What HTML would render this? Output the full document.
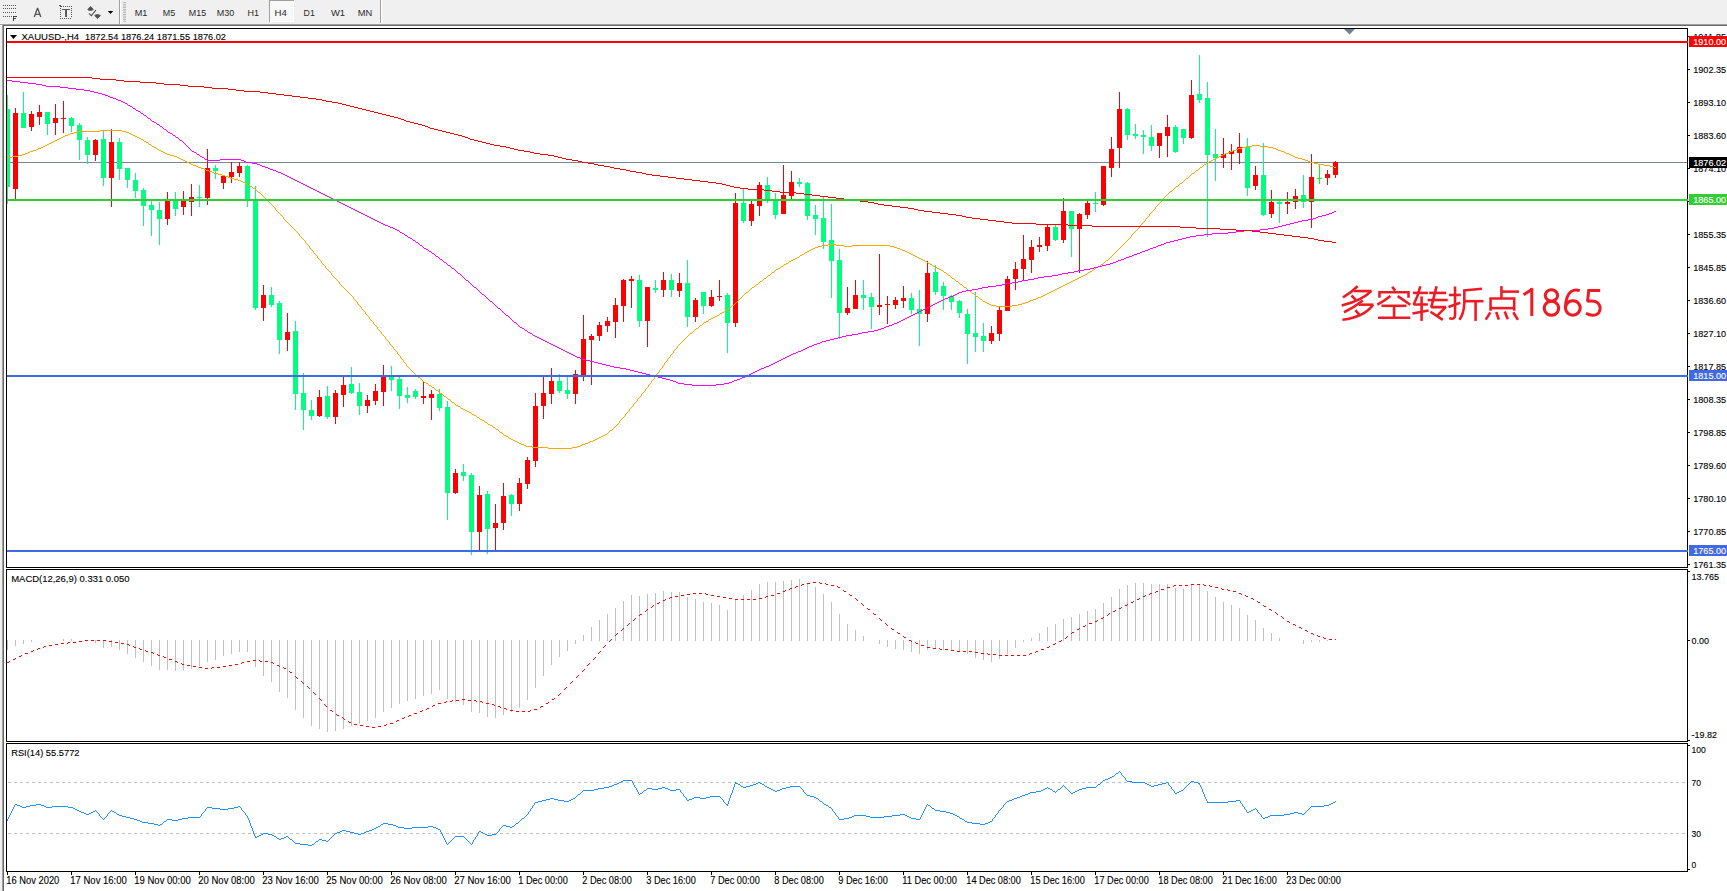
<!DOCTYPE html>
<html><head><meta charset="utf-8"><title>XAUUSD-,H4</title>
<style>html,body{margin:0;padding:0;background:#fff;overflow:hidden}body{width:1727px;height:891px;position:relative;font-family:"Liberation Sans",sans-serif}svg{position:absolute;left:0;top:0;display:block}text{font-family:"Liberation Sans",sans-serif}</style>
</head><body>
<svg width="1727" height="891" viewBox="0 0 1727 891">
<rect x="0" y="0" width="1727" height="891" fill="#fff"/>
<g shape-rendering="crispEdges">
<rect x="0" y="0" width="1727" height="24" fill="#f0f0f0"/>
<rect x="0" y="24" width="1727" height="1" fill="#a0a0a0"/>
<rect x="0" y="25" width="1727" height="1" fill="#696969"/>
<rect x="0" y="26" width="2" height="865" fill="#f0f0f0"/>
<rect x="0" y="25" width="2" height="1" fill="#ffffff"/>
<rect x="2" y="24" width="1" height="867" fill="#a0a0a0"/>
<rect x="3" y="25" width="1" height="866" fill="#696969"/>
</g>
<g shape-rendering="crispEdges">
<rect x="3" y="5" width="1" height="1" fill="#5a5a5a"/>
<rect x="5" y="5" width="1" height="1" fill="#5a5a5a"/>
<rect x="7" y="5" width="1" height="1" fill="#5a5a5a"/>
<rect x="9" y="5" width="1" height="1" fill="#5a5a5a"/>
<rect x="11" y="5" width="1" height="1" fill="#5a5a5a"/>
<rect x="13" y="5" width="1" height="1" fill="#5a5a5a"/>
<rect x="15" y="5" width="1" height="1" fill="#5a5a5a"/>
<rect x="3" y="8" width="1" height="1" fill="#5a5a5a"/>
<rect x="5" y="8" width="1" height="1" fill="#5a5a5a"/>
<rect x="7" y="8" width="1" height="1" fill="#5a5a5a"/>
<rect x="9" y="8" width="1" height="1" fill="#5a5a5a"/>
<rect x="11" y="8" width="1" height="1" fill="#5a5a5a"/>
<rect x="13" y="8" width="1" height="1" fill="#5a5a5a"/>
<rect x="15" y="8" width="1" height="1" fill="#5a5a5a"/>
<rect x="3" y="12" width="1" height="1" fill="#5a5a5a"/>
<rect x="5" y="12" width="1" height="1" fill="#5a5a5a"/>
<rect x="7" y="12" width="1" height="1" fill="#5a5a5a"/>
<rect x="9" y="12" width="1" height="1" fill="#5a5a5a"/>
<rect x="11" y="12" width="1" height="1" fill="#5a5a5a"/>
<rect x="13" y="12" width="1" height="1" fill="#5a5a5a"/>
<rect x="15" y="12" width="1" height="1" fill="#5a5a5a"/>
<rect x="3" y="16" width="1" height="1" fill="#5a5a5a"/>
<rect x="5" y="16" width="1" height="1" fill="#5a5a5a"/>
<rect x="7" y="16" width="1" height="1" fill="#5a5a5a"/>
<rect x="9" y="16" width="1" height="1" fill="#5a5a5a"/>
<rect x="11" y="16" width="1" height="1" fill="#5a5a5a"/>
<rect x="13" y="16" width="1" height="5" fill="#404040"/>
<rect x="13" y="16" width="4" height="1" fill="#404040"/>
<rect x="13" y="18" width="3" height="1" fill="#404040"/>
<rect x="60" y="8" width="1" height="1" fill="#555"/>
<rect x="60" y="10" width="1" height="1" fill="#555"/>
<rect x="60" y="12" width="1" height="1" fill="#555"/>
<rect x="60" y="14" width="1" height="1" fill="#555"/>
<rect x="60" y="16" width="1" height="1" fill="#555"/>
<rect x="60" y="18" width="1" height="1" fill="#555"/>
<rect x="62" y="18" width="1" height="1" fill="#555"/>
<rect x="64" y="18" width="1" height="1" fill="#555"/>
<rect x="66" y="18" width="1" height="1" fill="#555"/>
<rect x="68" y="18" width="1" height="1" fill="#555"/>
<rect x="70" y="18" width="1" height="1" fill="#555"/>
<rect x="71" y="6" width="1" height="1" fill="#555"/>
<rect x="71" y="8" width="1" height="1" fill="#555"/>
<rect x="71" y="10" width="1" height="1" fill="#555"/>
<rect x="71" y="12" width="1" height="1" fill="#555"/>
<rect x="71" y="14" width="1" height="1" fill="#555"/>
<rect x="71" y="16" width="1" height="1" fill="#555"/>
<rect x="63" y="6" width="1" height="1" fill="#555"/>
<rect x="65" y="6" width="1" height="1" fill="#555"/>
<rect x="67" y="6" width="1" height="1" fill="#555"/>
<rect x="69" y="6" width="1" height="1" fill="#555"/>
<rect x="59" y="5" width="2" height="1" fill="#555"/>
<rect x="60" y="6" width="2" height="1" fill="#555"/>
<rect x="62" y="9" width="8" height="1" fill="#5a5a5a"/>
<rect x="65" y="9" width="2" height="8" fill="#5a5a5a"/>
<rect x="119" y="0" width="1" height="24" fill="#a0a0a0"/>
<rect x="120" y="0" width="1" height="24" fill="#ffffff"/>
<rect x="380" y="0" width="1" height="23" fill="#a0a0a0"/>
<rect x="381" y="0" width="1" height="23" fill="#ffffff"/>
<rect x="269" y="0" width="25" height="22" fill="#f8f8f8"/>
<rect x="269" y="0" width="25" height="1" fill="#a0a0a0"/>
<rect x="269" y="0" width="1" height="22" fill="#a0a0a0"/>
<rect x="293" y="1" width="1" height="21" fill="#ffffff"/>
<rect x="270" y="21" width="24" height="1" fill="#ffffff"/>
</g>
<rect x="123" y="2.20" width="3" height="0.8" fill="#a8a8a8"/>
<rect x="123" y="3.89" width="3" height="0.8" fill="#a8a8a8"/>
<rect x="123" y="5.58" width="3" height="0.8" fill="#a8a8a8"/>
<rect x="123" y="7.27" width="3" height="0.8" fill="#a8a8a8"/>
<rect x="123" y="8.96" width="3" height="0.8" fill="#a8a8a8"/>
<rect x="123" y="10.65" width="3" height="0.8" fill="#a8a8a8"/>
<rect x="123" y="12.34" width="3" height="0.8" fill="#a8a8a8"/>
<rect x="123" y="14.03" width="3" height="0.8" fill="#a8a8a8"/>
<rect x="123" y="15.72" width="3" height="0.8" fill="#a8a8a8"/>
<rect x="123" y="17.41" width="3" height="0.8" fill="#a8a8a8"/>
<rect x="123" y="19.10" width="3" height="0.8" fill="#a8a8a8"/>
<rect x="123" y="20.79" width="3" height="0.8" fill="#a8a8a8"/>
<path d="M34.3,17 L37.55,8.0 L40.8,17 M35.4,14.4 L39.7,14.4" fill="none" stroke="#555" stroke-width="1.35" stroke-linejoin="bevel"/>
<polygon points="90.5,6 94.1,9.7 92.6,9.7 92.6,10.7 88.3,10.7 88.3,9.7 87,9.7" fill="#505050"/>
<polygon points="97.5,18.9 101.2,15.2 99.5,15.2 99.5,14.2 95.4,14.2 95.4,15.2 93.9,15.2" fill="#505050"/>
<polyline points="89,13.3 91.3,15.6 95.9,10.2" fill="none" stroke="#505050" stroke-width="1.1"/>
<polygon points="107.8,10.9 113.2,10.9 110.5,14" fill="#000"/>
<text x="134.7" y="15.7" font-size="9.8" fill="#2a2a2a" textLength="12.7" lengthAdjust="spacingAndGlyphs">M1</text>
<text x="162.8" y="15.7" font-size="9.8" fill="#2a2a2a" textLength="12.4" lengthAdjust="spacingAndGlyphs">M5</text>
<text x="188.8" y="15.7" font-size="9.8" fill="#2a2a2a" textLength="17.3" lengthAdjust="spacingAndGlyphs">M15</text>
<text x="216.8" y="15.7" font-size="9.8" fill="#2a2a2a" textLength="17.5" lengthAdjust="spacingAndGlyphs">M30</text>
<text x="247.6" y="15.7" font-size="9.8" fill="#2a2a2a" textLength="11.5" lengthAdjust="spacingAndGlyphs">H1</text>
<text x="274.6" y="15.7" font-size="9.8" fill="#2a2a2a" textLength="12.3" lengthAdjust="spacingAndGlyphs">H4</text>
<text x="303.6" y="15.7" font-size="9.8" fill="#2a2a2a" textLength="11.3" lengthAdjust="spacingAndGlyphs">D1</text>
<text x="331" y="15.7" font-size="9.8" fill="#2a2a2a" textLength="14.1" lengthAdjust="spacingAndGlyphs">W1</text>
<text x="357.7" y="15.7" font-size="9.8" fill="#2a2a2a" textLength="14.5" lengthAdjust="spacingAndGlyphs">MN</text>
<defs><clipPath id="cm"><rect x="7" y="29" width="1680" height="538"/></clipPath></defs>
<g shape-rendering="crispEdges">
<g clip-path="url(#cm)">
<rect x="7" y="162" width="1680" height="1" fill="#778899"/>
<rect x="7" y="95" width="1" height="109" fill="#00ff7f"/>
<rect x="5" y="109" width="5" height="78" fill="#00ff7f"/>
<rect x="15" y="108" width="1" height="91" fill="#ff0000"/>
<rect x="13" y="113" width="5" height="76" fill="#ff0000"/>
<rect x="23" y="92" width="1" height="36" fill="#00ff7f"/>
<rect x="21" y="113" width="5" height="15" fill="#00ff7f"/>
<rect x="31" y="111" width="1" height="20" fill="#ff0000"/>
<rect x="29" y="114" width="5" height="13" fill="#ff0000"/>
<rect x="39" y="105" width="1" height="20" fill="#ff0000"/>
<rect x="37" y="112" width="5" height="5" fill="#ff0000"/>
<rect x="47" y="112" width="1" height="23" fill="#00ff7f"/>
<rect x="45" y="112" width="5" height="12" fill="#00ff7f"/>
<rect x="55" y="104" width="1" height="31" fill="#ff0000"/>
<rect x="53" y="118" width="5" height="5" fill="#ff0000"/>
<rect x="63" y="101" width="1" height="32" fill="#ff0000"/>
<rect x="61" y="118" width="5" height="1" fill="#ff0000"/>
<rect x="71" y="117" width="1" height="15" fill="#00ff7f"/>
<rect x="69" y="118" width="5" height="8" fill="#00ff7f"/>
<rect x="79" y="123" width="1" height="37" fill="#00ff7f"/>
<rect x="77" y="125" width="5" height="15" fill="#00ff7f"/>
<rect x="87" y="137" width="1" height="27" fill="#00ff7f"/>
<rect x="85" y="140" width="5" height="15" fill="#00ff7f"/>
<rect x="95" y="139" width="1" height="22" fill="#ff0000"/>
<rect x="93" y="140" width="5" height="15" fill="#ff0000"/>
<rect x="103" y="131" width="1" height="55" fill="#00ff7f"/>
<rect x="101" y="139" width="5" height="39" fill="#00ff7f"/>
<rect x="111" y="129" width="1" height="78" fill="#ff0000"/>
<rect x="109" y="142" width="5" height="36" fill="#ff0000"/>
<rect x="119" y="138" width="1" height="42" fill="#00ff7f"/>
<rect x="117" y="142" width="5" height="27" fill="#00ff7f"/>
<rect x="127" y="168" width="1" height="20" fill="#00ff7f"/>
<rect x="125" y="168" width="5" height="12" fill="#00ff7f"/>
<rect x="135" y="173" width="1" height="25" fill="#00ff7f"/>
<rect x="133" y="180" width="5" height="11" fill="#00ff7f"/>
<rect x="143" y="188" width="1" height="38" fill="#00ff7f"/>
<rect x="141" y="190" width="5" height="16" fill="#00ff7f"/>
<rect x="151" y="201" width="1" height="35" fill="#00ff7f"/>
<rect x="149" y="205" width="5" height="5" fill="#00ff7f"/>
<rect x="159" y="202" width="1" height="43" fill="#00ff7f"/>
<rect x="157" y="210" width="5" height="9" fill="#00ff7f"/>
<rect x="167" y="192" width="1" height="33" fill="#ff0000"/>
<rect x="165" y="200" width="5" height="19" fill="#ff0000"/>
<rect x="175" y="192" width="1" height="24" fill="#00ff7f"/>
<rect x="173" y="200" width="5" height="9" fill="#00ff7f"/>
<rect x="183" y="191" width="1" height="24" fill="#ff0000"/>
<rect x="181" y="200" width="5" height="7" fill="#ff0000"/>
<rect x="191" y="184" width="1" height="32" fill="#ff0000"/>
<rect x="189" y="197" width="5" height="5" fill="#ff0000"/>
<rect x="199" y="185" width="1" height="22" fill="#00ff7f"/>
<rect x="197" y="197" width="5" height="1" fill="#00ff7f"/>
<rect x="207" y="149" width="1" height="56" fill="#ff0000"/>
<rect x="205" y="168" width="5" height="30" fill="#ff0000"/>
<rect x="215" y="165" width="1" height="14" fill="#00ff7f"/>
<rect x="213" y="168" width="5" height="3" fill="#00ff7f"/>
<rect x="223" y="175" width="1" height="14" fill="#ff0000"/>
<rect x="221" y="176" width="5" height="7" fill="#ff0000"/>
<rect x="231" y="162" width="1" height="21" fill="#ff0000"/>
<rect x="229" y="172" width="5" height="5" fill="#ff0000"/>
<rect x="239" y="162" width="1" height="15" fill="#ff0000"/>
<rect x="237" y="166" width="5" height="7" fill="#ff0000"/>
<rect x="247" y="165" width="1" height="42" fill="#00ff7f"/>
<rect x="245" y="166" width="5" height="33" fill="#00ff7f"/>
<rect x="255" y="186" width="1" height="124" fill="#00ff7f"/>
<rect x="253" y="199" width="5" height="109" fill="#00ff7f"/>
<rect x="263" y="285" width="1" height="36" fill="#ff0000"/>
<rect x="261" y="295" width="5" height="13" fill="#ff0000"/>
<rect x="271" y="287" width="1" height="20" fill="#00ff7f"/>
<rect x="269" y="295" width="5" height="10" fill="#00ff7f"/>
<rect x="279" y="301" width="1" height="53" fill="#00ff7f"/>
<rect x="277" y="303" width="5" height="37" fill="#00ff7f"/>
<rect x="287" y="313" width="1" height="38" fill="#ff0000"/>
<rect x="285" y="332" width="5" height="8" fill="#ff0000"/>
<rect x="295" y="321" width="1" height="89" fill="#00ff7f"/>
<rect x="293" y="331" width="5" height="63" fill="#00ff7f"/>
<rect x="303" y="373" width="1" height="57" fill="#00ff7f"/>
<rect x="301" y="393" width="5" height="17" fill="#00ff7f"/>
<rect x="311" y="400" width="1" height="20" fill="#00ff7f"/>
<rect x="309" y="410" width="5" height="6" fill="#00ff7f"/>
<rect x="319" y="390" width="1" height="27" fill="#ff0000"/>
<rect x="317" y="397" width="5" height="19" fill="#ff0000"/>
<rect x="327" y="386" width="1" height="33" fill="#00ff7f"/>
<rect x="325" y="396" width="5" height="21" fill="#00ff7f"/>
<rect x="335" y="390" width="1" height="34" fill="#ff0000"/>
<rect x="333" y="393" width="5" height="24" fill="#ff0000"/>
<rect x="343" y="377" width="1" height="30" fill="#ff0000"/>
<rect x="341" y="385" width="5" height="10" fill="#ff0000"/>
<rect x="351" y="367" width="1" height="27" fill="#00ff7f"/>
<rect x="349" y="384" width="5" height="9" fill="#00ff7f"/>
<rect x="359" y="383" width="1" height="32" fill="#00ff7f"/>
<rect x="357" y="392" width="5" height="14" fill="#00ff7f"/>
<rect x="367" y="395" width="1" height="18" fill="#ff0000"/>
<rect x="365" y="400" width="5" height="6" fill="#ff0000"/>
<rect x="375" y="384" width="1" height="21" fill="#ff0000"/>
<rect x="373" y="391" width="5" height="10" fill="#ff0000"/>
<rect x="383" y="365" width="1" height="41" fill="#ff0000"/>
<rect x="381" y="375" width="5" height="17" fill="#ff0000"/>
<rect x="391" y="366" width="1" height="25" fill="#00ff7f"/>
<rect x="389" y="375" width="5" height="5" fill="#00ff7f"/>
<rect x="399" y="376" width="1" height="33" fill="#00ff7f"/>
<rect x="397" y="379" width="5" height="17" fill="#00ff7f"/>
<rect x="407" y="387" width="1" height="16" fill="#00ff7f"/>
<rect x="405" y="395" width="5" height="3" fill="#00ff7f"/>
<rect x="415" y="389" width="1" height="10" fill="#00ff7f"/>
<rect x="413" y="391" width="5" height="6" fill="#00ff7f"/>
<rect x="423" y="382" width="1" height="22" fill="#ff0000"/>
<rect x="421" y="396" width="5" height="2" fill="#ff0000"/>
<rect x="431" y="390" width="1" height="30" fill="#ff0000"/>
<rect x="429" y="394" width="5" height="4" fill="#ff0000"/>
<rect x="439" y="389" width="1" height="22" fill="#00ff7f"/>
<rect x="437" y="394" width="5" height="14" fill="#00ff7f"/>
<rect x="447" y="401" width="1" height="119" fill="#00ff7f"/>
<rect x="445" y="407" width="5" height="86" fill="#00ff7f"/>
<rect x="455" y="469" width="1" height="25" fill="#ff0000"/>
<rect x="453" y="473" width="5" height="20" fill="#ff0000"/>
<rect x="463" y="464" width="1" height="17" fill="#00ff7f"/>
<rect x="461" y="472" width="5" height="4" fill="#00ff7f"/>
<rect x="471" y="473" width="1" height="82" fill="#00ff7f"/>
<rect x="469" y="475" width="5" height="57" fill="#00ff7f"/>
<rect x="479" y="486" width="1" height="64" fill="#ff0000"/>
<rect x="477" y="495" width="5" height="37" fill="#ff0000"/>
<rect x="487" y="491" width="1" height="63" fill="#00ff7f"/>
<rect x="485" y="494" width="5" height="35" fill="#00ff7f"/>
<rect x="495" y="504" width="1" height="46" fill="#ff0000"/>
<rect x="493" y="523" width="5" height="5" fill="#ff0000"/>
<rect x="503" y="483" width="1" height="47" fill="#ff0000"/>
<rect x="501" y="496" width="5" height="27" fill="#ff0000"/>
<rect x="511" y="494" width="1" height="22" fill="#00ff7f"/>
<rect x="509" y="495" width="5" height="9" fill="#00ff7f"/>
<rect x="519" y="478" width="1" height="33" fill="#ff0000"/>
<rect x="517" y="483" width="5" height="21" fill="#ff0000"/>
<rect x="527" y="457" width="1" height="32" fill="#ff0000"/>
<rect x="525" y="460" width="5" height="24" fill="#ff0000"/>
<rect x="535" y="393" width="1" height="74" fill="#ff0000"/>
<rect x="533" y="406" width="5" height="55" fill="#ff0000"/>
<rect x="543" y="377" width="1" height="42" fill="#ff0000"/>
<rect x="541" y="393" width="5" height="13" fill="#ff0000"/>
<rect x="551" y="368" width="1" height="36" fill="#ff0000"/>
<rect x="549" y="381" width="5" height="13" fill="#ff0000"/>
<rect x="559" y="374" width="1" height="19" fill="#00ff7f"/>
<rect x="557" y="381" width="5" height="10" fill="#00ff7f"/>
<rect x="567" y="377" width="1" height="22" fill="#00ff7f"/>
<rect x="565" y="390" width="5" height="4" fill="#00ff7f"/>
<rect x="575" y="370" width="1" height="34" fill="#ff0000"/>
<rect x="573" y="374" width="5" height="20" fill="#ff0000"/>
<rect x="583" y="315" width="1" height="66" fill="#ff0000"/>
<rect x="581" y="339" width="5" height="36" fill="#ff0000"/>
<rect x="591" y="334" width="1" height="51" fill="#ff0000"/>
<rect x="589" y="336" width="5" height="4" fill="#ff0000"/>
<rect x="599" y="322" width="1" height="19" fill="#ff0000"/>
<rect x="597" y="325" width="5" height="11" fill="#ff0000"/>
<rect x="607" y="317" width="1" height="15" fill="#ff0000"/>
<rect x="605" y="321" width="5" height="5" fill="#ff0000"/>
<rect x="615" y="298" width="1" height="40" fill="#ff0000"/>
<rect x="613" y="305" width="5" height="17" fill="#ff0000"/>
<rect x="623" y="279" width="1" height="43" fill="#ff0000"/>
<rect x="621" y="280" width="5" height="26" fill="#ff0000"/>
<rect x="631" y="276" width="1" height="32" fill="#ff0000"/>
<rect x="629" y="279" width="5" height="2" fill="#ff0000"/>
<rect x="639" y="275" width="1" height="52" fill="#00ff7f"/>
<rect x="637" y="280" width="5" height="41" fill="#00ff7f"/>
<rect x="647" y="287" width="1" height="60" fill="#ff0000"/>
<rect x="645" y="287" width="5" height="34" fill="#ff0000"/>
<rect x="655" y="280" width="1" height="13" fill="#00ff7f"/>
<rect x="653" y="288" width="5" height="2" fill="#00ff7f"/>
<rect x="663" y="272" width="1" height="25" fill="#ff0000"/>
<rect x="661" y="280" width="5" height="10" fill="#ff0000"/>
<rect x="671" y="274" width="1" height="23" fill="#00ff7f"/>
<rect x="669" y="280" width="5" height="10" fill="#00ff7f"/>
<rect x="679" y="273" width="1" height="24" fill="#ff0000"/>
<rect x="677" y="283" width="5" height="8" fill="#ff0000"/>
<rect x="687" y="260" width="1" height="67" fill="#00ff7f"/>
<rect x="685" y="283" width="5" height="34" fill="#00ff7f"/>
<rect x="695" y="298" width="1" height="24" fill="#ff0000"/>
<rect x="693" y="300" width="5" height="17" fill="#ff0000"/>
<rect x="703" y="292" width="1" height="22" fill="#00ff7f"/>
<rect x="701" y="292" width="5" height="14" fill="#00ff7f"/>
<rect x="711" y="290" width="1" height="17" fill="#ff0000"/>
<rect x="709" y="297" width="5" height="9" fill="#ff0000"/>
<rect x="719" y="280" width="1" height="21" fill="#ff0000"/>
<rect x="717" y="296" width="5" height="1" fill="#ff0000"/>
<rect x="727" y="293" width="1" height="60" fill="#00ff7f"/>
<rect x="725" y="295" width="5" height="28" fill="#00ff7f"/>
<rect x="735" y="193" width="1" height="134" fill="#ff0000"/>
<rect x="733" y="203" width="5" height="120" fill="#ff0000"/>
<rect x="743" y="189" width="1" height="34" fill="#00ff7f"/>
<rect x="741" y="203" width="5" height="18" fill="#00ff7f"/>
<rect x="751" y="201" width="1" height="25" fill="#ff0000"/>
<rect x="749" y="204" width="5" height="17" fill="#ff0000"/>
<rect x="759" y="182" width="1" height="34" fill="#ff0000"/>
<rect x="757" y="185" width="5" height="21" fill="#ff0000"/>
<rect x="767" y="177" width="1" height="26" fill="#00ff7f"/>
<rect x="765" y="185" width="5" height="15" fill="#00ff7f"/>
<rect x="775" y="193" width="1" height="26" fill="#00ff7f"/>
<rect x="773" y="200" width="5" height="15" fill="#00ff7f"/>
<rect x="783" y="165" width="1" height="49" fill="#ff0000"/>
<rect x="781" y="195" width="5" height="19" fill="#ff0000"/>
<rect x="791" y="171" width="1" height="28" fill="#ff0000"/>
<rect x="789" y="182" width="5" height="14" fill="#ff0000"/>
<rect x="799" y="178" width="1" height="9" fill="#00ff7f"/>
<rect x="797" y="182" width="5" height="2" fill="#00ff7f"/>
<rect x="807" y="182" width="1" height="38" fill="#00ff7f"/>
<rect x="805" y="183" width="5" height="33" fill="#00ff7f"/>
<rect x="815" y="205" width="1" height="30" fill="#00ff7f"/>
<rect x="813" y="215" width="5" height="4" fill="#00ff7f"/>
<rect x="823" y="197" width="1" height="52" fill="#00ff7f"/>
<rect x="821" y="218" width="5" height="24" fill="#00ff7f"/>
<rect x="831" y="204" width="1" height="94" fill="#00ff7f"/>
<rect x="829" y="240" width="5" height="21" fill="#00ff7f"/>
<rect x="839" y="249" width="1" height="90" fill="#00ff7f"/>
<rect x="837" y="260" width="5" height="53" fill="#00ff7f"/>
<rect x="847" y="287" width="1" height="28" fill="#ff0000"/>
<rect x="845" y="308" width="5" height="5" fill="#ff0000"/>
<rect x="855" y="280" width="1" height="29" fill="#ff0000"/>
<rect x="853" y="295" width="5" height="14" fill="#ff0000"/>
<rect x="863" y="280" width="1" height="30" fill="#00ff7f"/>
<rect x="861" y="295" width="5" height="3" fill="#00ff7f"/>
<rect x="871" y="293" width="1" height="36" fill="#00ff7f"/>
<rect x="869" y="297" width="5" height="10" fill="#00ff7f"/>
<rect x="879" y="254" width="1" height="61" fill="#ff0000"/>
<rect x="877" y="305" width="5" height="2" fill="#ff0000"/>
<rect x="887" y="296" width="1" height="28" fill="#ff0000"/>
<rect x="885" y="304" width="5" height="1" fill="#ff0000"/>
<rect x="895" y="297" width="1" height="12" fill="#ff0000"/>
<rect x="893" y="300" width="5" height="5" fill="#ff0000"/>
<rect x="903" y="286" width="1" height="22" fill="#ff0000"/>
<rect x="901" y="298" width="5" height="3" fill="#ff0000"/>
<rect x="911" y="293" width="1" height="21" fill="#00ff7f"/>
<rect x="909" y="298" width="5" height="12" fill="#00ff7f"/>
<rect x="919" y="290" width="1" height="56" fill="#00ff7f"/>
<rect x="917" y="309" width="5" height="5" fill="#00ff7f"/>
<rect x="927" y="261" width="1" height="61" fill="#ff0000"/>
<rect x="925" y="273" width="5" height="41" fill="#ff0000"/>
<rect x="935" y="265" width="1" height="30" fill="#00ff7f"/>
<rect x="933" y="272" width="5" height="20" fill="#00ff7f"/>
<rect x="943" y="282" width="1" height="28" fill="#00ff7f"/>
<rect x="941" y="286" width="5" height="10" fill="#00ff7f"/>
<rect x="951" y="295" width="1" height="15" fill="#00ff7f"/>
<rect x="949" y="296" width="5" height="6" fill="#00ff7f"/>
<rect x="959" y="300" width="1" height="18" fill="#00ff7f"/>
<rect x="957" y="301" width="5" height="12" fill="#00ff7f"/>
<rect x="967" y="309" width="1" height="55" fill="#00ff7f"/>
<rect x="965" y="314" width="5" height="20" fill="#00ff7f"/>
<rect x="975" y="292" width="1" height="60" fill="#00ff7f"/>
<rect x="973" y="333" width="5" height="4" fill="#00ff7f"/>
<rect x="983" y="323" width="1" height="29" fill="#00ff7f"/>
<rect x="981" y="336" width="5" height="5" fill="#00ff7f"/>
<rect x="991" y="326" width="1" height="18" fill="#ff0000"/>
<rect x="989" y="333" width="5" height="8" fill="#ff0000"/>
<rect x="999" y="306" width="1" height="35" fill="#ff0000"/>
<rect x="997" y="310" width="5" height="24" fill="#ff0000"/>
<rect x="1007" y="276" width="1" height="35" fill="#ff0000"/>
<rect x="1005" y="279" width="5" height="32" fill="#ff0000"/>
<rect x="1015" y="262" width="1" height="28" fill="#ff0000"/>
<rect x="1013" y="269" width="5" height="10" fill="#ff0000"/>
<rect x="1023" y="235" width="1" height="46" fill="#ff0000"/>
<rect x="1021" y="259" width="5" height="10" fill="#ff0000"/>
<rect x="1031" y="240" width="1" height="33" fill="#ff0000"/>
<rect x="1029" y="247" width="5" height="13" fill="#ff0000"/>
<rect x="1039" y="237" width="1" height="15" fill="#ff0000"/>
<rect x="1037" y="245" width="5" height="2" fill="#ff0000"/>
<rect x="1047" y="225" width="1" height="26" fill="#ff0000"/>
<rect x="1045" y="227" width="5" height="19" fill="#ff0000"/>
<rect x="1055" y="225" width="1" height="16" fill="#00ff7f"/>
<rect x="1053" y="227" width="5" height="13" fill="#00ff7f"/>
<rect x="1063" y="198" width="1" height="45" fill="#ff0000"/>
<rect x="1061" y="211" width="5" height="29" fill="#ff0000"/>
<rect x="1071" y="211" width="1" height="46" fill="#00ff7f"/>
<rect x="1069" y="211" width="5" height="18" fill="#00ff7f"/>
<rect x="1079" y="213" width="1" height="60" fill="#ff0000"/>
<rect x="1077" y="214" width="5" height="15" fill="#ff0000"/>
<rect x="1087" y="201" width="1" height="18" fill="#ff0000"/>
<rect x="1085" y="203" width="5" height="12" fill="#ff0000"/>
<rect x="1095" y="192" width="1" height="20" fill="#00ff7f"/>
<rect x="1093" y="203" width="5" height="1" fill="#00ff7f"/>
<rect x="1103" y="166" width="1" height="40" fill="#ff0000"/>
<rect x="1101" y="166" width="5" height="39" fill="#ff0000"/>
<rect x="1111" y="137" width="1" height="40" fill="#ff0000"/>
<rect x="1109" y="149" width="5" height="19" fill="#ff0000"/>
<rect x="1119" y="92" width="1" height="76" fill="#ff0000"/>
<rect x="1117" y="109" width="5" height="39" fill="#ff0000"/>
<rect x="1127" y="108" width="1" height="32" fill="#00ff7f"/>
<rect x="1125" y="109" width="5" height="26" fill="#00ff7f"/>
<rect x="1135" y="124" width="1" height="15" fill="#00ff7f"/>
<rect x="1133" y="134" width="5" height="2" fill="#00ff7f"/>
<rect x="1143" y="130" width="1" height="24" fill="#00ff7f"/>
<rect x="1141" y="135" width="5" height="2" fill="#00ff7f"/>
<rect x="1151" y="125" width="1" height="26" fill="#00ff7f"/>
<rect x="1149" y="137" width="5" height="9" fill="#00ff7f"/>
<rect x="1159" y="133" width="1" height="25" fill="#ff0000"/>
<rect x="1157" y="133" width="5" height="13" fill="#ff0000"/>
<rect x="1167" y="115" width="1" height="42" fill="#ff0000"/>
<rect x="1165" y="127" width="5" height="9" fill="#ff0000"/>
<rect x="1175" y="125" width="1" height="28" fill="#00ff7f"/>
<rect x="1173" y="127" width="5" height="25" fill="#00ff7f"/>
<rect x="1183" y="129" width="1" height="15" fill="#00ff7f"/>
<rect x="1181" y="129" width="5" height="9" fill="#00ff7f"/>
<rect x="1191" y="80" width="1" height="59" fill="#ff0000"/>
<rect x="1189" y="95" width="5" height="43" fill="#ff0000"/>
<rect x="1199" y="55" width="1" height="48" fill="#00ff7f"/>
<rect x="1197" y="94" width="5" height="6" fill="#00ff7f"/>
<rect x="1207" y="82" width="1" height="155" fill="#00ff7f"/>
<rect x="1205" y="98" width="5" height="57" fill="#00ff7f"/>
<rect x="1215" y="129" width="1" height="52" fill="#00ff7f"/>
<rect x="1213" y="154" width="5" height="4" fill="#00ff7f"/>
<rect x="1223" y="138" width="1" height="30" fill="#ff0000"/>
<rect x="1221" y="154" width="5" height="4" fill="#ff0000"/>
<rect x="1231" y="144" width="1" height="26" fill="#ff0000"/>
<rect x="1229" y="151" width="5" height="3" fill="#ff0000"/>
<rect x="1239" y="133" width="1" height="31" fill="#ff0000"/>
<rect x="1237" y="147" width="5" height="6" fill="#ff0000"/>
<rect x="1247" y="138" width="1" height="58" fill="#00ff7f"/>
<rect x="1245" y="147" width="5" height="41" fill="#00ff7f"/>
<rect x="1255" y="166" width="1" height="24" fill="#ff0000"/>
<rect x="1253" y="175" width="5" height="11" fill="#ff0000"/>
<rect x="1263" y="143" width="1" height="73" fill="#00ff7f"/>
<rect x="1261" y="175" width="5" height="40" fill="#00ff7f"/>
<rect x="1271" y="190" width="1" height="28" fill="#ff0000"/>
<rect x="1269" y="202" width="5" height="12" fill="#ff0000"/>
<rect x="1279" y="200" width="1" height="23" fill="#00ff7f"/>
<rect x="1277" y="202" width="5" height="2" fill="#00ff7f"/>
<rect x="1287" y="192" width="1" height="22" fill="#ff0000"/>
<rect x="1285" y="202" width="5" height="2" fill="#ff0000"/>
<rect x="1295" y="189" width="1" height="20" fill="#ff0000"/>
<rect x="1293" y="196" width="5" height="6" fill="#ff0000"/>
<rect x="1303" y="175" width="1" height="33" fill="#00ff7f"/>
<rect x="1301" y="195" width="5" height="7" fill="#00ff7f"/>
<rect x="1311" y="154" width="1" height="74" fill="#ff0000"/>
<rect x="1309" y="177" width="5" height="25" fill="#ff0000"/>
<rect x="1319" y="165" width="1" height="19" fill="#00ff00"/>
<rect x="1317" y="178" width="5" height="1" fill="#00ff00"/>
<rect x="1327" y="170" width="1" height="15" fill="#ff0000"/>
<rect x="1325" y="174" width="5" height="4" fill="#ff0000"/>
<rect x="1335" y="161" width="1" height="17" fill="#ff0000"/>
<rect x="1333" y="162" width="5" height="13" fill="#ff0000"/>
</g>
<g clip-path="url(#cm)">
<path d="M100 130h22v1h-22zM78 131h22v1h-22zM122 131h4v1h-4zM74 132h4v1h-4zM126 132h3v1h-3zM70 133h4v1h-4zM129 133h2v1h-2zM68 134h2v1h-2zM131 134h2v1h-2zM65 135h3v1h-3zM133 135h2v1h-2zM63 136h2v1h-2zM135 136h2v1h-2zM61 137h2v1h-2zM137 137h2v1h-2zM59 138h2v1h-2zM139 138h2v1h-2zM57 139h2v1h-2zM141 139h2v1h-2zM55 140h2v1h-2zM143 140h1v1h-1zM53 141h2v1h-2zM144 141h2v1h-2zM51 142h2v1h-2zM146 142h2v1h-2zM49 143h2v1h-2zM148 143h1v1h-1zM47 144h2v1h-2zM149 144h2v1h-2zM45 145h2v1h-2zM151 145h1v1h-1zM1252 145h8v1h-8zM43 146h2v1h-2zM152 146h2v1h-2zM1246 146h6v1h-6zM1260 146h8v1h-8zM41 147h2v1h-2zM154 147h2v1h-2zM1242 147h4v1h-4zM1268 147h5v1h-5zM38 148h3v1h-3zM156 148h1v1h-1zM1238 148h4v1h-4zM1273 148h3v1h-3zM36 149h2v1h-2zM157 149h2v1h-2zM1236 149h2v1h-2zM1276 149h2v1h-2zM33 150h3v1h-3zM159 150h2v1h-2zM1233 150h3v1h-3zM1278 150h3v1h-3zM30 151h3v1h-3zM161 151h2v1h-2zM1230 151h3v1h-3zM1281 151h3v1h-3zM28 152h2v1h-2zM163 152h2v1h-2zM1228 152h2v1h-2zM1284 152h2v1h-2zM25 153h3v1h-3zM165 153h2v1h-2zM1225 153h3v1h-3zM1286 153h3v1h-3zM22 154h3v1h-3zM167 154h3v1h-3zM1223 154h2v1h-2zM1289 154h2v1h-2zM18 155h4v1h-4zM170 155h4v1h-4zM1221 155h2v1h-2zM1291 155h2v1h-2zM12 156h6v1h-6zM174 156h3v1h-3zM1219 156h2v1h-2zM1293 156h2v1h-2zM7 157h5v1h-5zM177 157h2v1h-2zM1217 157h2v1h-2zM1295 157h3v1h-3zM179 158h2v1h-2zM1215 158h2v1h-2zM1298 158h4v1h-4zM181 159h2v1h-2zM1213 159h2v1h-2zM1302 159h3v1h-3zM183 160h2v1h-2zM1211 160h2v1h-2zM1305 160h3v1h-3zM185 161h2v1h-2zM1209 161h2v1h-2zM1308 161h2v1h-2zM187 162h2v1h-2zM1207 162h2v1h-2zM1310 162h4v1h-4zM189 163h2v1h-2zM1206 163h1v1h-1zM1314 163h4v1h-4zM191 164h2v1h-2zM1204 164h2v1h-2zM1318 164h6v1h-6zM193 165h3v1h-3zM1203 165h1v1h-1zM1324 165h6v1h-6zM196 166h2v1h-2zM1202 166h1v1h-1zM1330 166h4v1h-4zM198 167h3v1h-3zM1200 167h2v1h-2zM1334 167h2v1h-2zM201 168h3v1h-3zM1199 168h1v1h-1zM204 169h2v1h-2zM1198 169h1v1h-1zM206 170h3v1h-3zM1196 170h2v1h-2zM209 171h3v1h-3zM1195 171h1v1h-1zM212 172h2v1h-2zM1194 172h1v1h-1zM214 173h4v1h-4zM1192 173h2v1h-2zM218 174h4v1h-4zM1191 174h1v1h-1zM222 175h3v1h-3zM1190 175h1v1h-1zM225 176h3v1h-3zM1189 176h1v1h-1zM228 177h2v1h-2zM1188 177h1v1h-1zM230 178h4v1h-4zM1186 178h2v1h-2zM234 179h4v1h-4zM1185 179h1v1h-1zM238 180h3v1h-3zM1184 180h1v1h-1zM241 181h2v1h-2zM1183 181h1v1h-1zM243 182h2v1h-2zM1182 182h1v1h-1zM245 183h2v1h-2zM1180 183h2v1h-2zM247 184h1v1h-1zM1179 184h1v1h-1zM248 185h2v1h-2zM1178 185h1v1h-1zM250 186h2v1h-2zM1176 186h2v1h-2zM252 187h1v1h-1zM1175 187h1v1h-1zM253 188h2v1h-2zM1174 188h1v1h-1zM255 189h1v1h-1zM1173 189h1v1h-1zM256 190h1v1h-1zM1172 190h1v1h-1zM257 191h1v1h-1zM1170 191h2v1h-2zM258 192h2v1h-2zM1169 192h1v1h-1zM260 193h1v1h-1zM1168 193h1v1h-1zM261 194h1v1h-1zM1167 194h1v1h-1zM262 195h1v1h-1zM1166 195h1v1h-1zM263 196h1v1h-1zM1165 196h1v1h-1zM264 197h1v1h-1zM1164 197h1v1h-1zM265 198h1v1h-1zM1163 198h1v2h-1zM266 199h1v1h-1zM267 200h1v1h-1zM1162 200h1v1h-1zM268 201h1v1h-1zM1161 201h1v1h-1zM269 202h1v1h-1zM1160 202h1v1h-1zM270 203h1v1h-1zM1159 203h1v1h-1zM271 204h1v1h-1zM1158 204h1v1h-1zM272 205h1v1h-1zM1157 205h1v1h-1zM273 206h1v1h-1zM1156 206h1v1h-1zM274 207h1v1h-1zM1155 207h1v2h-1zM275 208h1v2h-1zM1154 209h1v1h-1zM276 210h1v1h-1zM1153 210h1v1h-1zM277 211h1v1h-1zM1152 211h1v1h-1zM278 212h1v1h-1zM1151 212h1v1h-1zM279 213h1v1h-1zM1150 213h1v1h-1zM280 214h1v1h-1zM1149 214h1v2h-1zM281 215h1v1h-1zM282 216h1v1h-1zM1148 216h1v1h-1zM283 217h1v2h-1zM1147 217h1v1h-1zM1146 218h1v1h-1zM284 219h1v1h-1zM1145 219h1v2h-1zM285 220h1v1h-1zM286 221h1v1h-1zM1144 221h1v1h-1zM287 222h1v1h-1zM1143 222h1v1h-1zM288 223h1v1h-1zM1142 223h1v1h-1zM289 224h1v1h-1zM1141 224h1v1h-1zM290 225h1v1h-1zM1140 225h1v1h-1zM291 226h1v1h-1zM1139 226h1v2h-1zM292 227h1v1h-1zM293 228h1v1h-1zM1138 228h1v1h-1zM294 229h1v1h-1zM1137 229h1v1h-1zM295 230h1v1h-1zM1136 230h1v1h-1zM296 231h1v1h-1zM1135 231h1v1h-1zM297 232h1v1h-1zM1134 232h1v1h-1zM298 233h1v1h-1zM1133 233h1v1h-1zM299 234h1v2h-1zM1132 234h1v1h-1zM1131 235h1v2h-1zM300 236h1v1h-1zM301 237h1v1h-1zM1130 237h1v1h-1zM302 238h1v1h-1zM1129 238h1v1h-1zM303 239h1v1h-1zM1128 239h1v1h-1zM304 240h1v1h-1zM1127 240h1v1h-1zM305 241h1v2h-1zM1126 241h1v1h-1zM1125 242h1v1h-1zM306 243h1v1h-1zM1124 243h1v1h-1zM307 244h1v1h-1zM828 244h8v1h-8zM1123 244h1v1h-1zM308 245h1v1h-1zM822 245h6v1h-6zM836 245h8v1h-8zM852 245h38v1h-38zM1122 245h1v1h-1zM309 246h1v2h-1zM818 246h4v1h-4zM844 246h8v1h-8zM890 246h4v1h-4zM1121 246h1v1h-1zM815 247h3v1h-3zM894 247h3v1h-3zM1120 247h1v1h-1zM310 248h1v1h-1zM813 248h2v1h-2zM897 248h3v1h-3zM1119 248h1v1h-1zM311 249h1v1h-1zM811 249h2v1h-2zM900 249h2v1h-2zM1118 249h1v1h-1zM312 250h1v1h-1zM809 250h2v1h-2zM902 250h3v1h-3zM1117 250h1v1h-1zM313 251h1v2h-1zM807 251h2v1h-2zM905 251h2v1h-2zM1116 251h1v1h-1zM805 252h2v1h-2zM907 252h2v1h-2zM1115 252h1v1h-1zM314 253h1v1h-1zM804 253h1v1h-1zM909 253h2v1h-2zM1114 253h1v1h-1zM315 254h1v1h-1zM802 254h2v1h-2zM911 254h2v1h-2zM1113 254h1v1h-1zM316 255h1v1h-1zM800 255h2v1h-2zM913 255h2v1h-2zM1112 255h1v1h-1zM317 256h1v2h-1zM799 256h1v1h-1zM915 256h2v1h-2zM1111 256h1v1h-1zM797 257h2v1h-2zM917 257h2v1h-2zM1110 257h1v1h-1zM318 258h1v1h-1zM795 258h2v1h-2zM919 258h2v1h-2zM1109 258h1v1h-1zM319 259h1v1h-1zM793 259h2v1h-2zM921 259h2v1h-2zM1108 259h1v1h-1zM320 260h1v1h-1zM791 260h2v1h-2zM923 260h2v1h-2zM1106 260h2v1h-2zM321 261h1v2h-1zM789 261h2v1h-2zM925 261h2v1h-2zM1105 261h1v1h-1zM788 262h1v1h-1zM927 262h1v1h-1zM1104 262h1v1h-1zM322 263h1v1h-1zM786 263h2v1h-2zM928 263h2v1h-2zM1103 263h1v1h-1zM323 264h1v1h-1zM784 264h2v1h-2zM930 264h2v1h-2zM1101 264h2v1h-2zM324 265h1v1h-1zM783 265h1v1h-1zM932 265h1v1h-1zM1100 265h1v1h-1zM325 266h1v2h-1zM781 266h2v1h-2zM933 266h2v1h-2zM1098 266h2v1h-2zM780 267h1v1h-1zM935 267h2v1h-2zM1096 267h2v1h-2zM326 268h1v1h-1zM778 268h2v1h-2zM937 268h2v1h-2zM1095 268h1v1h-1zM327 269h1v1h-1zM776 269h2v1h-2zM939 269h2v1h-2zM1093 269h2v1h-2zM328 270h1v1h-1zM775 270h1v1h-1zM941 270h2v1h-2zM1092 270h1v1h-1zM329 271h1v1h-1zM774 271h1v1h-1zM943 271h1v1h-1zM1090 271h2v1h-2zM330 272h1v1h-1zM772 272h2v1h-2zM944 272h2v1h-2zM1088 272h2v1h-2zM331 273h1v2h-1zM771 273h1v1h-1zM946 273h1v1h-1zM1087 273h1v1h-1zM770 274h1v1h-1zM947 274h1v1h-1zM1085 274h2v1h-2zM332 275h1v1h-1zM768 275h2v1h-2zM948 275h2v1h-2zM1083 275h2v1h-2zM333 276h1v1h-1zM767 276h1v1h-1zM950 276h1v1h-1zM1081 276h2v1h-2zM334 277h1v1h-1zM766 277h1v1h-1zM951 277h1v1h-1zM1079 277h2v1h-2zM335 278h1v1h-1zM764 278h2v1h-2zM952 278h2v1h-2zM1077 278h2v1h-2zM336 279h1v1h-1zM763 279h1v1h-1zM954 279h1v1h-1zM1075 279h2v1h-2zM337 280h1v1h-1zM762 280h1v1h-1zM955 280h1v1h-1zM1073 280h2v1h-2zM338 281h1v1h-1zM760 281h2v1h-2zM956 281h2v1h-2zM1071 281h2v1h-2zM339 282h1v2h-1zM759 282h1v1h-1zM958 282h1v1h-1zM1069 282h2v1h-2zM758 283h1v1h-1zM959 283h1v1h-1zM1067 283h2v1h-2zM340 284h1v1h-1zM756 284h2v1h-2zM960 284h2v1h-2zM1065 284h2v1h-2zM341 285h1v1h-1zM755 285h1v1h-1zM962 285h1v1h-1zM1063 285h2v1h-2zM342 286h1v1h-1zM754 286h1v1h-1zM963 286h1v1h-1zM1061 286h2v1h-2zM343 287h1v1h-1zM752 287h2v1h-2zM964 287h2v1h-2zM1059 287h2v1h-2zM344 288h1v1h-1zM751 288h1v1h-1zM966 288h1v1h-1zM1057 288h2v1h-2zM345 289h1v1h-1zM750 289h1v1h-1zM967 289h1v1h-1zM1055 289h2v1h-2zM346 290h1v1h-1zM749 290h1v1h-1zM968 290h2v1h-2zM1053 290h2v1h-2zM347 291h1v1h-1zM748 291h1v1h-1zM970 291h1v1h-1zM1051 291h2v1h-2zM348 292h1v1h-1zM746 292h2v1h-2zM971 292h1v1h-1zM1049 292h2v1h-2zM349 293h1v1h-1zM745 293h1v1h-1zM972 293h2v1h-2zM1047 293h2v1h-2zM350 294h1v1h-1zM744 294h1v1h-1zM974 294h1v1h-1zM1045 294h2v1h-2zM351 295h1v1h-1zM743 295h1v1h-1zM975 295h1v1h-1zM1043 295h2v1h-2zM352 296h1v1h-1zM742 296h1v1h-1zM976 296h2v1h-2zM1041 296h2v1h-2zM353 297h1v2h-1zM741 297h1v1h-1zM978 297h1v1h-1zM1038 297h3v1h-3zM740 298h1v1h-1zM979 298h1v1h-1zM1036 298h2v1h-2zM354 299h1v1h-1zM739 299h1v1h-1zM980 299h2v1h-2zM1033 299h3v1h-3zM355 300h1v1h-1zM738 300h1v1h-1zM982 300h1v1h-1zM1030 300h3v1h-3zM356 301h1v1h-1zM737 301h1v1h-1zM983 301h2v1h-2zM1028 301h2v1h-2zM357 302h1v2h-1zM736 302h1v1h-1zM985 302h2v1h-2zM1025 302h3v1h-3zM735 303h1v1h-1zM987 303h2v1h-2zM1022 303h3v1h-3zM358 304h1v1h-1zM734 304h1v1h-1zM989 304h2v1h-2zM1018 304h4v1h-4zM359 305h1v1h-1zM732 305h2v1h-2zM991 305h5v1h-5zM1012 305h6v1h-6zM360 306h1v1h-1zM731 306h1v1h-1zM996 306h16v1h-16zM361 307h1v2h-1zM730 307h1v1h-1zM728 308h2v1h-2zM362 309h1v1h-1zM727 309h1v1h-1zM363 310h1v1h-1zM725 310h2v1h-2zM364 311h1v1h-1zM724 311h1v1h-1zM365 312h1v2h-1zM722 312h2v1h-2zM720 313h2v1h-2zM366 314h1v1h-1zM719 314h1v1h-1zM367 315h1v1h-1zM717 315h2v1h-2zM368 316h1v1h-1zM715 316h2v1h-2zM369 317h1v2h-1zM713 317h2v1h-2zM711 318h2v1h-2zM370 319h1v1h-1zM709 319h2v1h-2zM371 320h1v1h-1zM708 320h1v1h-1zM372 321h1v1h-1zM706 321h2v1h-2zM373 322h1v2h-1zM704 322h2v1h-2zM703 323h1v1h-1zM374 324h1v1h-1zM702 324h1v1h-1zM375 325h1v1h-1zM700 325h2v1h-2zM376 326h1v1h-1zM699 326h1v1h-1zM377 327h1v2h-1zM698 327h1v1h-1zM696 328h2v1h-2zM378 329h1v1h-1zM695 329h1v1h-1zM379 330h1v1h-1zM694 330h1v1h-1zM380 331h1v1h-1zM693 331h1v1h-1zM381 332h1v2h-1zM692 332h1v1h-1zM690 333h2v1h-2zM382 334h1v1h-1zM689 334h1v1h-1zM383 335h1v1h-1zM688 335h1v1h-1zM384 336h1v1h-1zM687 336h1v1h-1zM385 337h1v2h-1zM686 337h1v1h-1zM685 338h1v1h-1zM386 339h1v1h-1zM684 339h1v1h-1zM387 340h1v1h-1zM683 340h1v1h-1zM388 341h1v1h-1zM682 341h1v1h-1zM389 342h1v2h-1zM681 342h1v1h-1zM680 343h1v1h-1zM390 344h1v1h-1zM679 344h1v1h-1zM391 345h1v1h-1zM678 345h1v1h-1zM392 346h1v1h-1zM677 346h1v2h-1zM393 347h1v2h-1zM676 348h1v1h-1zM394 349h1v1h-1zM675 349h1v1h-1zM395 350h1v1h-1zM674 350h1v1h-1zM396 351h1v1h-1zM673 351h1v2h-1zM397 352h1v2h-1zM672 353h1v1h-1zM398 354h1v1h-1zM671 354h1v1h-1zM399 355h1v1h-1zM670 355h1v2h-1zM400 356h1v2h-1zM669 357h1v1h-1zM401 358h1v1h-1zM668 358h1v1h-1zM402 359h1v1h-1zM667 359h1v2h-1zM403 360h1v2h-1zM666 361h1v1h-1zM404 362h1v1h-1zM665 362h1v1h-1zM405 363h1v1h-1zM664 363h1v2h-1zM406 364h1v2h-1zM663 365h1v1h-1zM407 366h1v1h-1zM662 366h1v2h-1zM408 367h1v1h-1zM409 368h1v1h-1zM661 368h1v1h-1zM410 369h1v1h-1zM660 369h1v1h-1zM411 370h1v1h-1zM659 370h1v2h-1zM412 371h1v1h-1zM413 372h1v1h-1zM658 372h1v1h-1zM414 373h1v1h-1zM657 373h1v1h-1zM415 374h1v1h-1zM656 374h1v2h-1zM416 375h1v1h-1zM417 376h1v1h-1zM655 376h1v1h-1zM418 377h2v1h-2zM654 377h1v2h-1zM420 378h1v1h-1zM421 379h1v1h-1zM653 379h1v1h-1zM422 380h1v1h-1zM652 380h1v1h-1zM423 381h1v1h-1zM651 381h1v2h-1zM424 382h2v1h-2zM426 383h2v1h-2zM650 383h1v1h-1zM428 384h1v1h-1zM649 384h1v1h-1zM429 385h2v1h-2zM648 385h1v2h-1zM431 386h1v1h-1zM432 387h2v1h-2zM647 387h1v1h-1zM434 388h1v1h-1zM646 388h1v1h-1zM435 389h1v1h-1zM645 389h1v2h-1zM436 390h2v1h-2zM438 391h1v1h-1zM644 391h1v1h-1zM439 392h1v1h-1zM643 392h1v1h-1zM440 393h2v1h-2zM642 393h1v1h-1zM442 394h1v1h-1zM641 394h1v2h-1zM443 395h1v1h-1zM444 396h2v1h-2zM640 396h1v1h-1zM446 397h1v1h-1zM639 397h1v1h-1zM447 398h1v1h-1zM638 398h1v1h-1zM448 399h2v1h-2zM637 399h1v2h-1zM450 400h1v1h-1zM451 401h1v1h-1zM636 401h1v1h-1zM452 402h2v1h-2zM635 402h1v1h-1zM454 403h1v1h-1zM634 403h1v1h-1zM455 404h1v1h-1zM633 404h1v2h-1zM456 405h2v1h-2zM458 406h2v1h-2zM632 406h1v1h-1zM460 407h1v1h-1zM631 407h1v1h-1zM461 408h2v1h-2zM630 408h1v1h-1zM463 409h2v1h-2zM629 409h1v2h-1zM465 410h2v1h-2zM467 411h2v1h-2zM628 411h1v1h-1zM469 412h2v1h-2zM627 412h1v1h-1zM471 413h1v1h-1zM626 413h1v1h-1zM472 414h2v1h-2zM625 414h1v2h-1zM474 415h2v1h-2zM476 416h1v1h-1zM624 416h1v1h-1zM477 417h2v1h-2zM623 417h1v1h-1zM479 418h1v1h-1zM622 418h1v1h-1zM480 419h2v1h-2zM621 419h1v1h-1zM482 420h2v1h-2zM620 420h1v1h-1zM484 421h1v1h-1zM619 421h1v2h-1zM485 422h2v1h-2zM487 423h1v1h-1zM618 423h1v1h-1zM488 424h2v1h-2zM617 424h1v1h-1zM490 425h2v1h-2zM616 425h1v1h-1zM492 426h1v1h-1zM615 426h1v1h-1zM493 427h2v1h-2zM614 427h1v1h-1zM495 428h1v1h-1zM613 428h1v1h-1zM496 429h2v1h-2zM612 429h1v1h-1zM498 430h1v1h-1zM610 430h2v1h-2zM499 431h1v1h-1zM609 431h1v1h-1zM500 432h2v1h-2zM608 432h1v1h-1zM502 433h1v1h-1zM607 433h1v1h-1zM503 434h1v1h-1zM605 434h2v1h-2zM504 435h2v1h-2zM603 435h2v1h-2zM506 436h2v1h-2zM601 436h2v1h-2zM508 437h1v1h-1zM599 437h2v1h-2zM509 438h2v1h-2zM597 438h2v1h-2zM511 439h2v1h-2zM595 439h2v1h-2zM513 440h2v1h-2zM593 440h2v1h-2zM515 441h2v1h-2zM590 441h3v1h-3zM517 442h2v1h-2zM588 442h2v1h-2zM519 443h2v1h-2zM585 443h3v1h-3zM521 444h3v1h-3zM582 444h3v1h-3zM524 445h2v1h-2zM580 445h2v1h-2zM526 446h6v1h-6zM577 446h3v1h-3zM532 447h16v1h-16zM572 447h5v1h-5zM548 448h24v1h-24z" fill="#ffa500"/>
<path d="M7 80h5v1h-5zM12 81h8v1h-8zM20 82h8v1h-8zM28 83h8v1h-8zM36 84h6v1h-6zM42 85h4v1h-4zM46 86h14v1h-14zM60 87h8v1h-8zM68 88h8v1h-8zM76 89h8v1h-8zM84 90h6v1h-6zM90 91h4v1h-4zM94 92h4v1h-4zM98 93h4v1h-4zM102 94h3v1h-3zM105 95h3v1h-3zM108 96h2v1h-2zM110 97h3v1h-3zM113 98h3v1h-3zM116 99h2v1h-2zM118 100h3v1h-3zM121 101h2v1h-2zM123 102h2v1h-2zM125 103h2v1h-2zM127 104h1v1h-1zM128 105h2v1h-2zM130 106h2v1h-2zM132 107h1v1h-1zM133 108h2v1h-2zM135 109h1v1h-1zM136 110h2v1h-2zM138 111h2v1h-2zM140 112h1v1h-1zM141 113h2v1h-2zM143 114h1v1h-1zM144 115h2v1h-2zM146 116h1v1h-1zM147 117h1v1h-1zM148 118h2v1h-2zM150 119h1v1h-1zM151 120h1v1h-1zM152 121h2v1h-2zM154 122h2v1h-2zM156 123h1v1h-1zM157 124h2v1h-2zM159 125h1v1h-1zM160 126h2v1h-2zM162 127h1v1h-1zM163 128h1v1h-1zM164 129h2v1h-2zM166 130h1v1h-1zM167 131h1v1h-1zM168 132h2v1h-2zM170 133h2v1h-2zM172 134h1v1h-1zM173 135h2v1h-2zM175 136h1v1h-1zM176 137h2v1h-2zM178 138h1v1h-1zM179 139h1v1h-1zM180 140h2v1h-2zM182 141h1v1h-1zM183 142h1v1h-1zM184 143h1v1h-1zM185 144h1v1h-1zM186 145h1v1h-1zM187 146h1v1h-1zM188 147h1v1h-1zM189 148h1v1h-1zM190 149h1v1h-1zM191 150h1v1h-1zM192 151h2v1h-2zM194 152h2v1h-2zM196 153h1v1h-1zM197 154h2v1h-2zM199 155h1v1h-1zM200 156h2v1h-2zM202 157h2v1h-2zM204 158h1v1h-1zM205 159h2v1h-2zM220 159h21v1h-21zM207 160h13v1h-13zM241 160h3v1h-3zM244 161h2v1h-2zM246 162h6v1h-6zM252 163h5v1h-5zM257 164h3v1h-3zM260 165h2v1h-2zM262 166h3v1h-3zM265 167h3v1h-3zM268 168h2v1h-2zM270 169h3v1h-3zM273 170h3v1h-3zM276 171h2v1h-2zM278 172h3v1h-3zM281 173h2v1h-2zM283 174h2v1h-2zM285 175h2v1h-2zM287 176h2v1h-2zM289 177h2v1h-2zM291 178h2v1h-2zM293 179h2v1h-2zM295 180h2v1h-2zM297 181h2v1h-2zM299 182h2v1h-2zM301 183h2v1h-2zM303 184h2v1h-2zM305 185h2v1h-2zM307 186h2v1h-2zM309 187h2v1h-2zM311 188h2v1h-2zM313 189h2v1h-2zM315 190h2v1h-2zM317 191h2v1h-2zM319 192h2v1h-2zM321 193h2v1h-2zM323 194h2v1h-2zM325 195h2v1h-2zM327 196h2v1h-2zM329 197h2v1h-2zM331 198h2v1h-2zM333 199h2v1h-2zM335 200h2v1h-2zM337 201h2v1h-2zM339 202h2v1h-2zM341 203h2v1h-2zM343 204h2v1h-2zM345 205h2v1h-2zM347 206h2v1h-2zM349 207h2v1h-2zM351 208h2v1h-2zM353 209h2v1h-2zM355 210h2v1h-2zM357 211h2v1h-2zM1334 211h2v1h-2zM359 212h2v1h-2zM1332 212h2v1h-2zM361 213h2v1h-2zM1329 213h3v1h-3zM363 214h2v1h-2zM1326 214h3v1h-3zM365 215h2v1h-2zM1322 215h4v1h-4zM367 216h2v1h-2zM1318 216h4v1h-4zM369 217h2v1h-2zM1316 217h2v1h-2zM371 218h2v1h-2zM1313 218h3v1h-3zM373 219h2v1h-2zM1308 219h5v1h-5zM375 220h2v1h-2zM1302 220h6v1h-6zM377 221h2v1h-2zM1298 221h4v1h-4zM379 222h2v1h-2zM1294 222h4v1h-4zM381 223h2v1h-2zM1290 223h4v1h-4zM383 224h2v1h-2zM1286 224h4v1h-4zM385 225h3v1h-3zM1282 225h4v1h-4zM388 226h2v1h-2zM1278 226h4v1h-4zM390 227h3v1h-3zM1274 227h4v1h-4zM393 228h2v1h-2zM1268 228h6v1h-6zM395 229h2v1h-2zM1260 229h8v1h-8zM397 230h2v1h-2zM1244 230h16v1h-16zM399 231h1v1h-1zM1236 231h8v1h-8zM400 232h2v1h-2zM1228 232h8v1h-8zM402 233h2v1h-2zM1212 233h16v1h-16zM404 234h1v1h-1zM1204 234h8v1h-8zM405 235h2v1h-2zM1196 235h8v1h-8zM407 236h1v1h-1zM1190 236h6v1h-6zM408 237h2v1h-2zM1186 237h4v1h-4zM410 238h2v1h-2zM1182 238h4v1h-4zM412 239h1v1h-1zM1178 239h4v1h-4zM413 240h2v1h-2zM1174 240h4v1h-4zM415 241h1v1h-1zM1170 241h4v1h-4zM416 242h2v1h-2zM1166 242h4v1h-4zM418 243h1v1h-1zM1164 243h2v1h-2zM419 244h1v1h-1zM1161 244h3v1h-3zM420 245h2v1h-2zM1158 245h3v1h-3zM422 246h1v1h-1zM1156 246h2v1h-2zM423 247h1v1h-1zM1153 247h3v1h-3zM424 248h2v1h-2zM1150 248h3v1h-3zM426 249h2v1h-2zM1148 249h2v1h-2zM428 250h1v1h-1zM1145 250h3v1h-3zM429 251h2v1h-2zM1142 251h3v1h-3zM431 252h1v1h-1zM1140 252h2v1h-2zM432 253h2v1h-2zM1137 253h3v1h-3zM434 254h1v1h-1zM1134 254h3v1h-3zM435 255h1v1h-1zM1132 255h2v1h-2zM436 256h2v1h-2zM1129 256h3v1h-3zM438 257h1v1h-1zM1126 257h3v1h-3zM439 258h1v1h-1zM1124 258h2v1h-2zM440 259h2v1h-2zM1121 259h3v1h-3zM442 260h1v1h-1zM1118 260h3v1h-3zM443 261h1v1h-1zM1116 261h2v1h-2zM444 262h2v1h-2zM1113 262h3v1h-3zM446 263h1v1h-1zM1110 263h3v1h-3zM447 264h1v1h-1zM1106 264h4v1h-4zM448 265h2v1h-2zM1102 265h4v1h-4zM450 266h1v1h-1zM1098 266h4v1h-4zM451 267h1v1h-1zM1094 267h4v1h-4zM452 268h2v1h-2zM1090 268h4v1h-4zM454 269h1v1h-1zM1084 269h6v1h-6zM455 270h1v1h-1zM1078 270h6v1h-6zM456 271h1v1h-1zM1074 271h4v1h-4zM457 272h1v1h-1zM1068 272h6v1h-6zM458 273h2v1h-2zM1062 273h6v1h-6zM460 274h1v1h-1zM1058 274h4v1h-4zM461 275h1v1h-1zM1052 275h6v1h-6zM462 276h1v1h-1zM1044 276h8v1h-8zM463 277h1v1h-1zM1038 277h6v1h-6zM464 278h1v1h-1zM1034 278h4v1h-4zM465 279h1v1h-1zM1028 279h6v1h-6zM466 280h2v1h-2zM1022 280h6v1h-6zM468 281h1v1h-1zM1018 281h4v1h-4zM469 282h1v1h-1zM1012 282h6v1h-6zM470 283h1v1h-1zM1006 283h6v1h-6zM471 284h1v1h-1zM1002 284h4v1h-4zM472 285h1v1h-1zM996 285h6v1h-6zM473 286h1v1h-1zM988 286h8v1h-8zM474 287h2v1h-2zM982 287h6v1h-6zM476 288h1v1h-1zM978 288h4v1h-4zM477 289h1v1h-1zM972 289h6v1h-6zM478 290h1v1h-1zM966 290h6v1h-6zM479 291h1v1h-1zM962 291h4v1h-4zM480 292h1v1h-1zM959 292h3v1h-3zM481 293h1v1h-1zM957 293h2v1h-2zM482 294h2v1h-2zM955 294h2v1h-2zM484 295h1v1h-1zM953 295h2v1h-2zM485 296h1v1h-1zM950 296h3v1h-3zM486 297h1v1h-1zM948 297h2v1h-2zM487 298h1v1h-1zM945 298h3v1h-3zM488 299h1v1h-1zM943 299h2v1h-2zM489 300h1v1h-1zM941 300h2v1h-2zM490 301h2v1h-2zM939 301h2v1h-2zM492 302h1v1h-1zM937 302h2v1h-2zM493 303h1v1h-1zM935 303h2v1h-2zM494 304h1v1h-1zM933 304h2v1h-2zM495 305h1v1h-1zM931 305h2v1h-2zM496 306h1v1h-1zM929 306h2v1h-2zM497 307h1v1h-1zM927 307h2v1h-2zM498 308h2v1h-2zM925 308h2v1h-2zM500 309h1v1h-1zM923 309h2v1h-2zM501 310h1v1h-1zM921 310h2v1h-2zM502 311h1v1h-1zM919 311h2v1h-2zM503 312h1v1h-1zM917 312h2v1h-2zM504 313h1v1h-1zM915 313h2v1h-2zM505 314h1v1h-1zM913 314h2v1h-2zM506 315h2v1h-2zM911 315h2v1h-2zM508 316h1v1h-1zM909 316h2v1h-2zM509 317h1v1h-1zM907 317h2v1h-2zM510 318h1v1h-1zM905 318h2v1h-2zM511 319h1v1h-1zM903 319h2v1h-2zM512 320h1v1h-1zM901 320h2v1h-2zM513 321h1v1h-1zM899 321h2v1h-2zM514 322h2v1h-2zM897 322h2v1h-2zM516 323h1v1h-1zM894 323h3v1h-3zM517 324h1v1h-1zM892 324h2v1h-2zM518 325h1v1h-1zM889 325h3v1h-3zM519 326h1v1h-1zM886 326h3v1h-3zM520 327h2v1h-2zM884 327h2v1h-2zM522 328h2v1h-2zM881 328h3v1h-3zM524 329h1v1h-1zM878 329h3v1h-3zM525 330h2v1h-2zM874 330h4v1h-4zM527 331h1v1h-1zM868 331h6v1h-6zM528 332h2v1h-2zM862 332h6v1h-6zM530 333h2v1h-2zM858 333h4v1h-4zM532 334h1v1h-1zM852 334h6v1h-6zM533 335h2v1h-2zM846 335h6v1h-6zM535 336h2v1h-2zM842 336h4v1h-4zM537 337h2v1h-2zM838 337h4v1h-4zM539 338h2v1h-2zM834 338h4v1h-4zM541 339h2v1h-2zM830 339h4v1h-4zM543 340h2v1h-2zM826 340h4v1h-4zM545 341h2v1h-2zM822 341h4v1h-4zM547 342h2v1h-2zM820 342h2v1h-2zM549 343h2v1h-2zM817 343h3v1h-3zM551 344h2v1h-2zM814 344h3v1h-3zM553 345h2v1h-2zM812 345h2v1h-2zM555 346h2v1h-2zM809 346h3v1h-3zM557 347h2v1h-2zM807 347h2v1h-2zM559 348h2v1h-2zM805 348h2v1h-2zM561 349h2v1h-2zM803 349h2v1h-2zM563 350h2v1h-2zM801 350h2v1h-2zM565 351h2v1h-2zM798 351h3v1h-3zM567 352h2v1h-2zM796 352h2v1h-2zM569 353h2v1h-2zM793 353h3v1h-3zM571 354h2v1h-2zM791 354h2v1h-2zM573 355h2v1h-2zM789 355h2v1h-2zM575 356h2v1h-2zM787 356h2v1h-2zM577 357h3v1h-3zM785 357h2v1h-2zM580 358h2v1h-2zM783 358h2v1h-2zM582 359h4v1h-4zM781 359h2v1h-2zM586 360h4v1h-4zM779 360h2v1h-2zM590 361h4v1h-4zM777 361h2v1h-2zM594 362h4v1h-4zM775 362h2v1h-2zM598 363h4v1h-4zM773 363h2v1h-2zM602 364h4v1h-4zM771 364h2v1h-2zM606 365h4v1h-4zM769 365h2v1h-2zM610 366h4v1h-4zM766 366h3v1h-3zM614 367h6v1h-6zM764 367h2v1h-2zM620 368h6v1h-6zM761 368h3v1h-3zM626 369h4v1h-4zM759 369h2v1h-2zM630 370h4v1h-4zM757 370h2v1h-2zM634 371h4v1h-4zM755 371h2v1h-2zM638 372h4v1h-4zM753 372h2v1h-2zM642 373h4v1h-4zM751 373h2v1h-2zM646 374h4v1h-4zM749 374h2v1h-2zM650 375h4v1h-4zM747 375h2v1h-2zM654 376h4v1h-4zM745 376h2v1h-2zM658 377h4v1h-4zM742 377h3v1h-3zM662 378h4v1h-4zM740 378h2v1h-2zM666 379h4v1h-4zM737 379h3v1h-3zM670 380h3v1h-3zM734 380h3v1h-3zM673 381h3v1h-3zM732 381h2v1h-2zM676 382h2v1h-2zM729 382h3v1h-3zM678 383h6v1h-6zM724 383h5v1h-5zM684 384h8v1h-8zM716 384h8v1h-8zM692 385h24v1h-24z" fill="#ff00ff"/>
<path d="M7 77h85v1h-85zM92 78h8v1h-8zM100 79h16v1h-16zM116 80h8v1h-8zM124 81h16v1h-16zM140 82h16v1h-16zM156 83h8v1h-8zM164 84h16v1h-16zM180 85h8v1h-8zM188 86h16v1h-16zM204 87h8v1h-8zM212 88h16v1h-16zM228 89h8v1h-8zM236 90h8v1h-8zM244 91h16v1h-16zM260 92h8v1h-8zM268 93h8v1h-8zM276 94h8v1h-8zM284 95h8v1h-8zM292 96h8v1h-8zM300 97h8v1h-8zM308 98h8v1h-8zM316 99h6v1h-6zM322 100h4v1h-4zM326 101h6v1h-6zM332 102h6v1h-6zM338 103h4v1h-4zM342 104h4v1h-4zM346 105h4v1h-4zM350 106h4v1h-4zM354 107h4v1h-4zM358 108h4v1h-4zM362 109h4v1h-4zM366 110h4v1h-4zM370 111h4v1h-4zM374 112h4v1h-4zM378 113h4v1h-4zM382 114h4v1h-4zM386 115h4v1h-4zM390 116h4v1h-4zM394 117h4v1h-4zM398 118h3v1h-3zM401 119h3v1h-3zM404 120h2v1h-2zM406 121h4v1h-4zM410 122h4v1h-4zM414 123h4v1h-4zM418 124h4v1h-4zM422 125h3v1h-3zM425 126h3v1h-3zM428 127h2v1h-2zM430 128h4v1h-4zM434 129h4v1h-4zM438 130h4v1h-4zM442 131h4v1h-4zM446 132h4v1h-4zM450 133h4v1h-4zM454 134h4v1h-4zM458 135h4v1h-4zM462 136h3v1h-3zM465 137h3v1h-3zM468 138h2v1h-2zM470 139h4v1h-4zM474 140h4v1h-4zM478 141h4v1h-4zM482 142h4v1h-4zM486 143h4v1h-4zM490 144h4v1h-4zM494 145h6v1h-6zM500 146h6v1h-6zM506 147h4v1h-4zM510 148h4v1h-4zM514 149h4v1h-4zM518 150h6v1h-6zM524 151h6v1h-6zM530 152h4v1h-4zM534 153h6v1h-6zM540 154h8v1h-8zM548 155h6v1h-6zM554 156h4v1h-4zM558 157h4v1h-4zM562 158h4v1h-4zM566 159h6v1h-6zM572 160h6v1h-6zM578 161h4v1h-4zM582 162h6v1h-6zM588 163h6v1h-6zM594 164h4v1h-4zM598 165h6v1h-6zM604 166h6v1h-6zM610 167h4v1h-4zM614 168h6v1h-6zM620 169h6v1h-6zM626 170h4v1h-4zM630 171h6v1h-6zM636 172h6v1h-6zM642 173h4v1h-4zM646 174h6v1h-6zM652 175h8v1h-8zM660 176h8v1h-8zM668 177h8v1h-8zM676 178h8v1h-8zM684 179h8v1h-8zM692 180h8v1h-8zM700 181h8v1h-8zM708 182h8v1h-8zM716 183h6v1h-6zM722 184h4v1h-4zM726 185h4v1h-4zM730 186h4v1h-4zM734 187h6v1h-6zM740 188h8v1h-8zM748 189h16v1h-16zM764 190h8v1h-8zM772 191h8v1h-8zM780 192h16v1h-16zM796 193h8v1h-8zM804 194h8v1h-8zM812 195h8v1h-8zM820 196h8v1h-8zM828 197h8v1h-8zM836 198h8v1h-8zM844 199h8v1h-8zM852 200h8v1h-8zM860 201h8v1h-8zM868 202h6v1h-6zM874 203h4v1h-4zM878 204h6v1h-6zM884 205h8v1h-8zM892 206h8v1h-8zM900 207h8v1h-8zM908 208h6v1h-6zM914 209h4v1h-4zM918 210h6v1h-6zM924 211h8v1h-8zM932 212h8v1h-8zM940 213h8v1h-8zM948 214h8v1h-8zM956 215h6v1h-6zM962 216h4v1h-4zM966 217h6v1h-6zM972 218h8v1h-8zM980 219h8v1h-8zM988 220h8v1h-8zM996 221h8v1h-8zM1004 222h8v1h-8zM1012 223h24v1h-24zM1036 224h32v1h-32zM1068 225h24v1h-24zM1092 226h88v1h-88zM1180 227h16v1h-16zM1196 228h24v1h-24zM1220 229h16v1h-16zM1236 230h16v1h-16zM1252 231h8v1h-8zM1260 232h8v1h-8zM1268 233h8v1h-8zM1276 234h8v1h-8zM1284 235h8v1h-8zM1292 236h8v1h-8zM1300 237h8v1h-8zM1308 238h6v1h-6zM1314 239h4v1h-4zM1318 240h6v1h-6zM1324 241h8v1h-8zM1332 242h4v1h-4z" fill="#ff0000"/>
</g>
<rect x="6" y="28" width="1682" height="1" fill="#000"/>
<rect x="6" y="567" width="1682" height="1" fill="#000"/>
<rect x="6" y="28" width="1" height="540" fill="#000"/>
<rect x="1687" y="28" width="1" height="540" fill="#000"/>
<rect x="6" y="569" width="1682" height="1" fill="#000"/>
<rect x="6" y="741" width="1682" height="1" fill="#000"/>
<rect x="6" y="569" width="1" height="173" fill="#000"/>
<rect x="1687" y="569" width="1" height="173" fill="#000"/>
<rect x="6" y="743" width="1682" height="1" fill="#000"/>
<rect x="6" y="871" width="1682" height="1" fill="#000"/>
<rect x="6" y="743" width="1" height="129" fill="#000"/>
<rect x="1687" y="743" width="1" height="129" fill="#000"/>
<rect x="7" y="41" width="1681" height="2" fill="#ff0000"/>
<rect x="7" y="199" width="1681" height="2" fill="#32cd32"/>
<rect x="7" y="375" width="1681" height="2" fill="#4169e1"/>
<rect x="7" y="550" width="1681" height="2" fill="#4169e1"/>
<polygon points="1344,29 1355,29 1349.5,34.5" fill="#708090" shape-rendering="geometricPrecision"/>
<rect x="7" y="640" width="1" height="10" fill="#c0c0c0"/>
<rect x="15" y="640" width="1" height="6" fill="#c0c0c0"/>
<rect x="23" y="640" width="1" height="4" fill="#c0c0c0"/>
<rect x="31" y="640" width="1" height="2" fill="#c0c0c0"/>
<rect x="63" y="639" width="1" height="2" fill="#c0c0c0"/>
<rect x="71" y="639" width="1" height="2" fill="#c0c0c0"/>
<rect x="95" y="640" width="1" height="3" fill="#c0c0c0"/>
<rect x="103" y="640" width="1" height="8" fill="#c0c0c0"/>
<rect x="111" y="640" width="1" height="7" fill="#c0c0c0"/>
<rect x="119" y="640" width="1" height="10" fill="#c0c0c0"/>
<rect x="127" y="640" width="1" height="14" fill="#c0c0c0"/>
<rect x="135" y="640" width="1" height="18" fill="#c0c0c0"/>
<rect x="143" y="640" width="1" height="22" fill="#c0c0c0"/>
<rect x="151" y="640" width="1" height="26" fill="#c0c0c0"/>
<rect x="159" y="640" width="1" height="30" fill="#c0c0c0"/>
<rect x="167" y="640" width="1" height="30" fill="#c0c0c0"/>
<rect x="175" y="640" width="1" height="31" fill="#c0c0c0"/>
<rect x="183" y="640" width="1" height="30" fill="#c0c0c0"/>
<rect x="191" y="640" width="1" height="29" fill="#c0c0c0"/>
<rect x="199" y="640" width="1" height="26" fill="#c0c0c0"/>
<rect x="207" y="640" width="1" height="22" fill="#c0c0c0"/>
<rect x="215" y="640" width="1" height="20" fill="#c0c0c0"/>
<rect x="223" y="640" width="1" height="16" fill="#c0c0c0"/>
<rect x="231" y="640" width="1" height="14" fill="#c0c0c0"/>
<rect x="239" y="640" width="1" height="12" fill="#c0c0c0"/>
<rect x="247" y="640" width="1" height="12" fill="#c0c0c0"/>
<rect x="255" y="640" width="1" height="27" fill="#c0c0c0"/>
<rect x="263" y="640" width="1" height="36" fill="#c0c0c0"/>
<rect x="271" y="640" width="1" height="42" fill="#c0c0c0"/>
<rect x="279" y="640" width="1" height="52" fill="#c0c0c0"/>
<rect x="287" y="640" width="1" height="58" fill="#c0c0c0"/>
<rect x="295" y="640" width="1" height="70" fill="#c0c0c0"/>
<rect x="303" y="640" width="1" height="78" fill="#c0c0c0"/>
<rect x="311" y="640" width="1" height="86" fill="#c0c0c0"/>
<rect x="319" y="640" width="1" height="89" fill="#c0c0c0"/>
<rect x="327" y="640" width="1" height="92" fill="#c0c0c0"/>
<rect x="335" y="640" width="1" height="91" fill="#c0c0c0"/>
<rect x="343" y="640" width="1" height="89" fill="#c0c0c0"/>
<rect x="351" y="640" width="1" height="86" fill="#c0c0c0"/>
<rect x="359" y="640" width="1" height="84" fill="#c0c0c0"/>
<rect x="367" y="640" width="1" height="81" fill="#c0c0c0"/>
<rect x="375" y="640" width="1" height="78" fill="#c0c0c0"/>
<rect x="383" y="640" width="1" height="72" fill="#c0c0c0"/>
<rect x="391" y="640" width="1" height="68" fill="#c0c0c0"/>
<rect x="399" y="640" width="1" height="64" fill="#c0c0c0"/>
<rect x="407" y="640" width="1" height="61" fill="#c0c0c0"/>
<rect x="415" y="640" width="1" height="59" fill="#c0c0c0"/>
<rect x="423" y="640" width="1" height="56" fill="#c0c0c0"/>
<rect x="431" y="640" width="1" height="54" fill="#c0c0c0"/>
<rect x="439" y="640" width="1" height="50" fill="#c0c0c0"/>
<rect x="447" y="640" width="1" height="59" fill="#c0c0c0"/>
<rect x="455" y="640" width="1" height="62" fill="#c0c0c0"/>
<rect x="463" y="640" width="1" height="65" fill="#c0c0c0"/>
<rect x="471" y="640" width="1" height="72" fill="#c0c0c0"/>
<rect x="479" y="640" width="1" height="73" fill="#c0c0c0"/>
<rect x="487" y="640" width="1" height="77" fill="#c0c0c0"/>
<rect x="495" y="640" width="1" height="78" fill="#c0c0c0"/>
<rect x="503" y="640" width="1" height="75" fill="#c0c0c0"/>
<rect x="511" y="640" width="1" height="72" fill="#c0c0c0"/>
<rect x="519" y="640" width="1" height="68" fill="#c0c0c0"/>
<rect x="527" y="640" width="1" height="60" fill="#c0c0c0"/>
<rect x="535" y="640" width="1" height="48" fill="#c0c0c0"/>
<rect x="543" y="640" width="1" height="36" fill="#c0c0c0"/>
<rect x="551" y="640" width="1" height="25" fill="#c0c0c0"/>
<rect x="559" y="640" width="1" height="17" fill="#c0c0c0"/>
<rect x="567" y="640" width="1" height="11" fill="#c0c0c0"/>
<rect x="575" y="640" width="1" height="4" fill="#c0c0c0"/>
<rect x="583" y="635" width="1" height="6" fill="#c0c0c0"/>
<rect x="591" y="627" width="1" height="14" fill="#c0c0c0"/>
<rect x="599" y="620" width="1" height="21" fill="#c0c0c0"/>
<rect x="607" y="614" width="1" height="27" fill="#c0c0c0"/>
<rect x="615" y="608" width="1" height="33" fill="#c0c0c0"/>
<rect x="623" y="601" width="1" height="40" fill="#c0c0c0"/>
<rect x="631" y="595" width="1" height="46" fill="#c0c0c0"/>
<rect x="639" y="596" width="1" height="45" fill="#c0c0c0"/>
<rect x="647" y="594" width="1" height="47" fill="#c0c0c0"/>
<rect x="655" y="593" width="1" height="48" fill="#c0c0c0"/>
<rect x="663" y="591" width="1" height="50" fill="#c0c0c0"/>
<rect x="671" y="592" width="1" height="49" fill="#c0c0c0"/>
<rect x="679" y="592" width="1" height="49" fill="#c0c0c0"/>
<rect x="687" y="597" width="1" height="44" fill="#c0c0c0"/>
<rect x="695" y="599" width="1" height="42" fill="#c0c0c0"/>
<rect x="703" y="602" width="1" height="39" fill="#c0c0c0"/>
<rect x="711" y="603" width="1" height="38" fill="#c0c0c0"/>
<rect x="719" y="605" width="1" height="36" fill="#c0c0c0"/>
<rect x="727" y="610" width="1" height="31" fill="#c0c0c0"/>
<rect x="735" y="600" width="1" height="41" fill="#c0c0c0"/>
<rect x="743" y="595" width="1" height="46" fill="#c0c0c0"/>
<rect x="751" y="590" width="1" height="51" fill="#c0c0c0"/>
<rect x="759" y="584" width="1" height="57" fill="#c0c0c0"/>
<rect x="767" y="582" width="1" height="59" fill="#c0c0c0"/>
<rect x="775" y="582" width="1" height="59" fill="#c0c0c0"/>
<rect x="783" y="581" width="1" height="60" fill="#c0c0c0"/>
<rect x="791" y="580" width="1" height="61" fill="#c0c0c0"/>
<rect x="799" y="579" width="1" height="62" fill="#c0c0c0"/>
<rect x="807" y="583" width="1" height="58" fill="#c0c0c0"/>
<rect x="815" y="587" width="1" height="54" fill="#c0c0c0"/>
<rect x="823" y="594" width="1" height="47" fill="#c0c0c0"/>
<rect x="831" y="602" width="1" height="39" fill="#c0c0c0"/>
<rect x="839" y="614" width="1" height="27" fill="#c0c0c0"/>
<rect x="847" y="624" width="1" height="17" fill="#c0c0c0"/>
<rect x="855" y="630" width="1" height="11" fill="#c0c0c0"/>
<rect x="863" y="636" width="1" height="5" fill="#c0c0c0"/>
<rect x="879" y="640" width="1" height="4" fill="#c0c0c0"/>
<rect x="887" y="640" width="1" height="7" fill="#c0c0c0"/>
<rect x="895" y="640" width="1" height="9" fill="#c0c0c0"/>
<rect x="903" y="640" width="1" height="10" fill="#c0c0c0"/>
<rect x="911" y="640" width="1" height="12" fill="#c0c0c0"/>
<rect x="919" y="640" width="1" height="14" fill="#c0c0c0"/>
<rect x="927" y="640" width="1" height="10" fill="#c0c0c0"/>
<rect x="935" y="640" width="1" height="9" fill="#c0c0c0"/>
<rect x="943" y="640" width="1" height="10" fill="#c0c0c0"/>
<rect x="951" y="640" width="1" height="11" fill="#c0c0c0"/>
<rect x="959" y="640" width="1" height="12" fill="#c0c0c0"/>
<rect x="967" y="640" width="1" height="14" fill="#c0c0c0"/>
<rect x="975" y="640" width="1" height="18" fill="#c0c0c0"/>
<rect x="983" y="640" width="1" height="20" fill="#c0c0c0"/>
<rect x="991" y="640" width="1" height="22" fill="#c0c0c0"/>
<rect x="999" y="640" width="1" height="19" fill="#c0c0c0"/>
<rect x="1007" y="640" width="1" height="14" fill="#c0c0c0"/>
<rect x="1015" y="640" width="1" height="8" fill="#c0c0c0"/>
<rect x="1023" y="640" width="1" height="2" fill="#c0c0c0"/>
<rect x="1031" y="638" width="1" height="3" fill="#c0c0c0"/>
<rect x="1039" y="633" width="1" height="8" fill="#c0c0c0"/>
<rect x="1047" y="627" width="1" height="14" fill="#c0c0c0"/>
<rect x="1055" y="624" width="1" height="17" fill="#c0c0c0"/>
<rect x="1063" y="619" width="1" height="22" fill="#c0c0c0"/>
<rect x="1071" y="617" width="1" height="24" fill="#c0c0c0"/>
<rect x="1079" y="614" width="1" height="27" fill="#c0c0c0"/>
<rect x="1087" y="611" width="1" height="30" fill="#c0c0c0"/>
<rect x="1095" y="609" width="1" height="32" fill="#c0c0c0"/>
<rect x="1103" y="603" width="1" height="38" fill="#c0c0c0"/>
<rect x="1111" y="597" width="1" height="44" fill="#c0c0c0"/>
<rect x="1119" y="589" width="1" height="52" fill="#c0c0c0"/>
<rect x="1127" y="585" width="1" height="56" fill="#c0c0c0"/>
<rect x="1135" y="583" width="1" height="58" fill="#c0c0c0"/>
<rect x="1143" y="583" width="1" height="58" fill="#c0c0c0"/>
<rect x="1151" y="584" width="1" height="57" fill="#c0c0c0"/>
<rect x="1159" y="584" width="1" height="57" fill="#c0c0c0"/>
<rect x="1167" y="584" width="1" height="57" fill="#c0c0c0"/>
<rect x="1175" y="588" width="1" height="53" fill="#c0c0c0"/>
<rect x="1183" y="589" width="1" height="52" fill="#c0c0c0"/>
<rect x="1191" y="585" width="1" height="56" fill="#c0c0c0"/>
<rect x="1199" y="584" width="1" height="57" fill="#c0c0c0"/>
<rect x="1207" y="591" width="1" height="50" fill="#c0c0c0"/>
<rect x="1215" y="597" width="1" height="44" fill="#c0c0c0"/>
<rect x="1223" y="602" width="1" height="39" fill="#c0c0c0"/>
<rect x="1231" y="605" width="1" height="36" fill="#c0c0c0"/>
<rect x="1239" y="608" width="1" height="33" fill="#c0c0c0"/>
<rect x="1247" y="615" width="1" height="26" fill="#c0c0c0"/>
<rect x="1255" y="620" width="1" height="21" fill="#c0c0c0"/>
<rect x="1263" y="628" width="1" height="13" fill="#c0c0c0"/>
<rect x="1271" y="633" width="1" height="8" fill="#c0c0c0"/>
<rect x="1279" y="638" width="1" height="3" fill="#c0c0c0"/>
<rect x="1303" y="640" width="1" height="4" fill="#c0c0c0"/>
<rect x="1311" y="640" width="1" height="2" fill="#c0c0c0"/>
<rect x="1319" y="640" width="1" height="2" fill="#c0c0c0"/>
<rect x="1327" y="640" width="1" height="1" fill="#c0c0c0"/>
<path d="M813 582h3v1h-3zM819 582h1v1h-1zM807 583h3v1h-3zM820 583h2v1h-2zM825 583h1v1h-1zM802 584h2v1h-2zM826 584h2v1h-2zM1191 584h3v1h-3zM1197 584h3v1h-3zM1203 584h1v1h-1zM801 585h1v1h-1zM831 585h3v1h-3zM1174 585h2v1h-2zM1179 585h3v1h-3zM1185 585h3v1h-3zM1204 585h2v1h-2zM1209 585h1v1h-1zM796 586h2v1h-2zM837 586h1v1h-1zM1173 586h1v1h-1zM1210 586h2v1h-2zM795 587h1v1h-1zM838 587h2v1h-2zM1167 587h3v1h-3zM1215 587h3v1h-3zM790 588h2v1h-2zM1221 588h1v1h-1zM789 589h1v1h-1zM1161 589h3v1h-3zM1222 589h2v1h-2zM1227 589h1v1h-1zM785 590h1v1h-1zM843 590h1v1h-1zM1228 590h2v1h-2zM783 591h2v1h-2zM844 591h2v1h-2zM1156 591h2v1h-2zM1233 591h3v1h-3zM1155 592h1v1h-1zM693 593h3v1h-3zM699 593h3v1h-3zM705 593h1v1h-1zM777 593h3v1h-3zM1150 593h2v1h-2zM1239 593h2v1h-2zM687 594h3v1h-3zM706 594h2v1h-2zM849 594h1v1h-1zM1149 594h1v1h-1zM1241 594h1v1h-1zM681 595h3v1h-3zM711 595h3v1h-3zM771 595h3v1h-3zM850 595h2v1h-2zM1145 595h1v1h-1zM1245 595h1v1h-1zM675 596h3v1h-3zM717 596h3v1h-3zM766 596h2v1h-2zM1143 596h2v1h-2zM1246 596h2v1h-2zM670 597h2v1h-2zM723 597h3v1h-3zM765 597h1v1h-1zM669 598h1v1h-1zM729 598h3v1h-3zM759 598h3v1h-3zM855 598h1v1h-1zM1139 598h1v1h-1zM1251 598h2v1h-2zM665 599h1v1h-1zM735 599h3v1h-3zM741 599h3v1h-3zM747 599h3v1h-3zM753 599h3v1h-3zM856 599h1v1h-1zM1137 599h2v1h-2zM1253 599h1v1h-1zM663 600h2v1h-2zM857 600h1v1h-1zM1133 601h1v1h-1zM1257 601h1v1h-1zM659 602h1v1h-1zM1131 602h2v1h-2zM1258 602h2v1h-2zM657 603h2v1h-2zM861 603h1v1h-1zM862 604h1v1h-1zM1127 604h1v1h-1zM653 605h1v1h-1zM863 605h1v1h-1zM1125 605h2v1h-2zM1263 605h1v1h-1zM652 606h1v1h-1zM1264 606h2v1h-2zM651 607h1v1h-1zM1121 607h1v1h-1zM867 608h1v1h-1zM1119 608h2v1h-2zM647 609h1v1h-1zM868 609h2v1h-2zM1269 609h2v1h-2zM646 610h1v1h-1zM1115 610h1v1h-1zM1271 610h1v1h-1zM645 611h1v1h-1zM1113 611h2v1h-2zM1275 612h1v1h-1zM873 613h1v1h-1zM1109 613h1v1h-1zM1276 613h1v1h-1zM640 614h2v1h-2zM874 614h2v1h-2zM1108 614h1v1h-1zM1277 614h1v1h-1zM639 615h1v1h-1zM1107 615h1v1h-1zM1281 616h1v1h-1zM1103 617h1v1h-1zM1282 617h1v1h-1zM635 618h1v1h-1zM879 618h1v1h-1zM1101 618h2v1h-2zM1283 618h1v1h-1zM634 619h1v1h-1zM880 619h1v1h-1zM633 620h1v1h-1zM881 620h1v1h-1zM1097 620h1v1h-1zM1095 621h2v1h-2zM1287 621h2v1h-2zM1289 622h1v1h-1zM629 623h1v1h-1zM885 623h1v1h-1zM1089 623h3v1h-3zM628 624h1v1h-1zM886 624h1v1h-1zM1293 624h2v1h-2zM627 625h1v1h-1zM887 625h1v1h-1zM1085 625h1v1h-1zM1295 625h1v1h-1zM1083 626h2v1h-2zM1299 627h2v1h-2zM623 628h1v1h-1zM891 628h1v1h-1zM1079 628h1v1h-1zM1301 628h1v1h-1zM622 629h1v1h-1zM892 629h2v1h-2zM1077 629h2v1h-2zM621 630h1v1h-1zM1305 630h2v1h-2zM1307 631h1v1h-1zM897 632h1v1h-1zM1072 632h2v1h-2zM617 633h1v1h-1zM898 633h2v1h-2zM1071 633h1v1h-1zM1311 633h2v1h-2zM616 634h1v1h-1zM1313 634h1v1h-1zM615 635h1v1h-1zM1317 635h1v1h-1zM903 636h1v1h-1zM1067 636h1v1h-1zM1318 636h2v1h-2zM904 637h2v1h-2zM1066 637h1v1h-1zM1323 637h1v1h-1zM1065 638h1v1h-1zM1324 638h2v1h-2zM611 639h1v1h-1zM1329 639h3v1h-3zM1335 639h1v1h-1zM85 640h3v1h-3zM91 640h3v1h-3zM97 640h3v1h-3zM103 640h3v1h-3zM610 640h1v1h-1zM909 640h2v1h-2zM1061 640h1v1h-1zM79 641h3v1h-3zM109 641h3v1h-3zM609 641h1v1h-1zM911 641h1v1h-1zM1059 641h2v1h-2zM68 642h2v1h-2zM73 642h3v1h-3zM115 642h3v1h-3zM915 642h1v1h-1zM61 643h3v1h-3zM67 643h1v1h-1zM121 643h3v1h-3zM916 643h2v1h-2zM1055 643h1v1h-1zM55 644h3v1h-3zM127 644h2v1h-2zM1053 644h2v1h-2zM49 645h3v1h-3zM129 645h1v1h-1zM605 645h1v1h-1zM921 645h3v1h-3zM44 646h2v1h-2zM133 646h1v1h-1zM604 646h1v1h-1zM1049 646h1v1h-1zM43 647h1v1h-1zM134 647h2v1h-2zM603 647h1v1h-1zM927 647h3v1h-3zM1047 647h2v1h-2zM38 648h2v1h-2zM139 648h1v1h-1zM933 648h3v1h-3zM939 648h1v1h-1zM37 649h1v1h-1zM140 649h2v1h-2zM940 649h2v1h-2zM945 649h3v1h-3zM1041 649h3v1h-3zM33 650h1v1h-1zM145 650h1v1h-1zM951 650h3v1h-3zM31 651h2v1h-2zM146 651h2v1h-2zM600 651h1v1h-1zM957 651h3v1h-3zM963 651h3v1h-3zM969 651h3v1h-3zM1036 651h2v1h-2zM151 652h2v1h-2zM599 652h1v1h-1zM975 652h3v1h-3zM1035 652h1v1h-1zM25 653h3v1h-3zM153 653h1v1h-1zM598 653h1v1h-1zM981 653h3v1h-3zM987 653h1v1h-1zM1030 653h2v1h-2zM157 654h1v1h-1zM988 654h2v1h-2zM993 654h3v1h-3zM1029 654h1v1h-1zM21 655h1v1h-1zM158 655h2v1h-2zM999 655h3v1h-3zM1005 655h3v1h-3zM1011 655h3v1h-3zM1017 655h3v1h-3zM1023 655h3v1h-3zM19 656h2v1h-2zM163 656h1v1h-1zM164 657h2v1h-2zM595 657h1v1h-1zM15 658h1v1h-1zM594 658h1v1h-1zM13 659h2v1h-2zM169 659h3v1h-3zM593 659h1v1h-1zM253 660h3v1h-3zM259 660h1v1h-1zM9 661h1v1h-1zM175 661h2v1h-2zM247 661h3v1h-3zM260 661h2v1h-2zM265 661h3v1h-3zM7 662h2v1h-2zM177 662h1v1h-1zM242 662h2v1h-2zM271 662h2v1h-2zM181 663h1v1h-1zM241 663h1v1h-1zM273 663h1v1h-1zM589 663h1v1h-1zM182 664h2v1h-2zM235 664h3v1h-3zM588 664h1v1h-1zM187 665h3v1h-3zM229 665h3v1h-3zM277 665h2v1h-2zM587 665h1v1h-1zM193 666h3v1h-3zM223 666h3v1h-3zM279 666h1v1h-1zM199 667h3v1h-3zM212 667h2v1h-2zM217 667h3v1h-3zM283 667h1v1h-1zM205 668h3v1h-3zM211 668h1v1h-1zM284 668h2v1h-2zM584 669h1v1h-1zM583 670h1v1h-1zM289 671h1v1h-1zM582 671h1v1h-1zM290 672h2v1h-2zM578 675h1v1h-1zM295 676h1v1h-1zM577 676h1v1h-1zM296 677h1v1h-1zM576 677h1v1h-1zM297 678h1v1h-1zM301 681h1v1h-1zM572 681h1v1h-1zM302 682h1v1h-1zM571 682h1v1h-1zM303 683h1v1h-1zM570 683h1v1h-1zM307 686h1v1h-1zM308 687h1v1h-1zM566 687h1v1h-1zM309 688h1v1h-1zM565 688h1v1h-1zM564 689h1v1h-1zM313 692h1v1h-1zM314 693h1v1h-1zM560 693h1v1h-1zM315 694h1v1h-1zM559 694h1v1h-1zM558 695h1v1h-1zM319 698h1v1h-1zM554 698h1v1h-1zM320 699h1v1h-1zM462 699h3v1h-3zM552 699h2v1h-2zM321 700h1v1h-1zM452 700h1v1h-1zM456 700h3v1h-3zM468 700h3v1h-3zM474 700h2v1h-2zM446 701h1v1h-1zM450 701h2v1h-2zM476 701h1v1h-1zM480 701h2v1h-2zM444 702h2v1h-2zM482 702h1v1h-1zM548 702h1v1h-1zM438 703h3v1h-3zM486 703h3v1h-3zM546 703h2v1h-2zM324 704h1v1h-1zM492 704h2v1h-2zM325 705h1v1h-1zM433 705h2v1h-2zM494 705h1v1h-1zM326 706h1v1h-1zM432 706h1v1h-1zM498 706h2v1h-2zM541 706h2v1h-2zM500 707h1v1h-1zM540 707h1v1h-1zM427 708h2v1h-2zM504 708h2v1h-2zM426 709h1v1h-1zM506 709h1v1h-1zM534 709h3v1h-3zM330 710h2v1h-2zM422 710h1v1h-1zM510 710h3v1h-3zM530 710h1v1h-1zM332 711h1v1h-1zM420 711h2v1h-2zM516 711h3v1h-3zM522 711h3v1h-3zM528 711h2v1h-2zM414 713h3v1h-3zM336 714h1v1h-1zM337 715h2v1h-2zM409 715h2v1h-2zM408 716h1v1h-1zM342 717h1v1h-1zM404 717h1v1h-1zM343 718h1v1h-1zM402 718h2v1h-2zM344 719h1v1h-1zM397 720h2v1h-2zM348 721h1v1h-1zM396 721h1v1h-1zM349 722h2v1h-2zM390 723h3v1h-3zM354 724h3v1h-3zM386 724h1v1h-1zM360 725h3v1h-3zM384 725h2v1h-2zM366 726h3v1h-3zM378 726h3v1h-3zM372 727h3v1h-3z" fill="#ff0000"/>
<line x1="8" y1="782.5" x2="1687" y2="782.5" stroke="#c0c0c0" stroke-width="1" stroke-dasharray="3 3"/>
<line x1="8" y1="833.5" x2="1687" y2="833.5" stroke="#c0c0c0" stroke-width="1" stroke-dasharray="3 3"/>
<path d="M1119 771h1v1h-1zM1118 772h1v1h-1zM1120 772h1v1h-1zM1116 773h2v1h-2zM1121 773h1v2h-1zM1115 774h1v1h-1zM1114 775h1v1h-1zM1122 775h1v1h-1zM1112 776h2v1h-2zM1123 776h1v1h-1zM1110 777h2v1h-2zM1124 777h1v1h-1zM1108 778h2v1h-2zM1125 778h1v2h-1zM1105 779h3v1h-3zM623 780h9v1h-9zM1103 780h2v1h-2zM1126 780h1v1h-1zM621 781h2v1h-2zM632 781h1v2h-1zM1102 781h1v1h-1zM1127 781h5v1h-5zM1191 781h3v1h-3zM619 782h2v1h-2zM735 782h1v2h-1zM758 782h2v1h-2zM1101 782h1v1h-1zM1132 782h13v1h-13zM1166 782h2v1h-2zM1190 782h1v1h-1zM1194 782h4v1h-4zM617 783h2v1h-2zM633 783h1v2h-1zM736 783h2v1h-2zM756 783h2v1h-2zM760 783h2v1h-2zM1100 783h1v1h-1zM1145 783h2v1h-2zM1162 783h4v1h-4zM1168 783h1v2h-1zM1189 783h1v1h-1zM1198 783h2v1h-2zM614 784h3v1h-3zM734 784h1v3h-1zM738 784h2v1h-2zM753 784h3v1h-3zM762 784h2v1h-2zM1098 784h2v1h-2zM1147 784h2v1h-2zM1158 784h4v1h-4zM1188 784h1v1h-1zM1199 784h1v1h-1zM612 785h2v1h-2zM634 785h1v2h-1zM740 785h1v1h-1zM750 785h3v1h-3zM764 785h1v1h-1zM1063 785h1v1h-1zM1097 785h1v1h-1zM1149 785h2v1h-2zM1154 785h4v1h-4zM1169 785h1v1h-1zM1187 785h1v1h-1zM1200 785h1v2h-1zM609 786h3v1h-3zM741 786h2v1h-2zM746 786h4v1h-4zM765 786h2v1h-2zM790 786h10v1h-10zM1062 786h1v1h-1zM1064 786h1v1h-1zM1096 786h1v1h-1zM1151 786h3v1h-3zM1170 786h1v1h-1zM1186 786h1v1h-1zM604 787h5v1h-5zM635 787h1v1h-1zM662 787h3v1h-3zM733 787h1v3h-1zM743 787h3v1h-3zM767 787h2v1h-2zM786 787h4v1h-4zM800 787h1v1h-1zM1047 787h1v1h-1zM1061 787h1v1h-1zM1065 787h1v1h-1zM1086 787h10v1h-10zM1171 787h1v2h-1zM1185 787h1v1h-1zM1201 787h1v2h-1zM598 788h6v1h-6zM636 788h1v2h-1zM647 788h5v1h-5zM658 788h4v1h-4zM665 788h3v1h-3zM769 788h2v1h-2zM782 788h4v1h-4zM801 788h1v1h-1zM1045 788h2v1h-2zM1048 788h2v1h-2zM1060 788h1v1h-1zM1066 788h1v1h-1zM1082 788h4v1h-4zM1184 788h1v1h-1zM594 789h4v1h-4zM646 789h1v1h-1zM652 789h6v1h-6zM668 789h2v1h-2zM676 789h4v1h-4zM771 789h2v1h-2zM780 789h2v1h-2zM802 789h1v1h-1zM1043 789h2v1h-2zM1050 789h2v1h-2zM1058 789h2v1h-2zM1067 789h1v1h-1zM1079 789h3v1h-3zM1172 789h1v1h-1zM1183 789h1v1h-1zM1202 789h1v3h-1zM583 790h11v1h-11zM637 790h1v2h-1zM644 790h2v1h-2zM670 790h6v1h-6zM680 790h1v2h-1zM732 790h1v3h-1zM773 790h2v1h-2zM777 790h3v1h-3zM803 790h1v2h-1zM1041 790h2v1h-2zM1052 790h1v1h-1zM1057 790h1v1h-1zM1068 790h1v1h-1zM1077 790h2v1h-2zM1173 790h1v1h-1zM1181 790h2v1h-2zM582 791h1v1h-1zM643 791h1v1h-1zM775 791h2v1h-2zM1036 791h5v1h-5zM1053 791h2v1h-2zM1056 791h1v1h-1zM1069 791h1v1h-1zM1075 791h2v1h-2zM1174 791h1v2h-1zM1179 791h2v1h-2zM581 792h1v1h-1zM638 792h1v2h-1zM642 792h1v1h-1zM681 792h1v1h-1zM804 792h1v1h-1zM1030 792h6v1h-6zM1055 792h1v1h-1zM1070 792h1v1h-1zM1073 792h2v1h-2zM1177 792h2v1h-2zM1203 792h1v2h-1zM580 793h1v1h-1zM640 793h2v1h-2zM682 793h1v1h-1zM731 793h1v2h-1zM805 793h1v1h-1zM1028 793h2v1h-2zM1071 793h2v1h-2zM1175 793h2v1h-2zM578 794h2v1h-2zM639 794h1v1h-1zM683 794h1v2h-1zM806 794h1v1h-1zM1025 794h3v1h-3zM1204 794h1v3h-1zM577 795h1v1h-1zM730 795h1v3h-1zM807 795h3v1h-3zM1022 795h3v1h-3zM576 796h1v1h-1zM684 796h1v1h-1zM710 796h10v1h-10zM810 796h4v1h-4zM1020 796h2v1h-2zM575 797h1v1h-1zM685 797h1v1h-1zM694 797h6v1h-6zM706 797h4v1h-4zM720 797h1v1h-1zM814 797h2v1h-2zM1017 797h3v1h-3zM1205 797h1v2h-1zM550 798h4v1h-4zM573 798h2v1h-2zM686 798h1v2h-1zM692 798h2v1h-2zM700 798h6v1h-6zM721 798h1v1h-1zM729 798h1v3h-1zM816 798h2v1h-2zM1014 798h3v1h-3zM546 799h4v1h-4zM554 799h4v1h-4zM571 799h2v1h-2zM689 799h3v1h-3zM722 799h1v1h-1zM818 799h1v1h-1zM1012 799h2v1h-2zM1206 799h1v2h-1zM542 800h4v1h-4zM558 800h6v1h-6zM569 800h2v1h-2zM687 800h2v1h-2zM723 800h1v2h-1zM819 800h1v1h-1zM1009 800h3v1h-3zM1236 800h4v1h-4zM538 801h4v1h-4zM564 801h5v1h-5zM728 801h1v3h-1zM820 801h2v1h-2zM1007 801h2v1h-2zM1207 801h1v2h-1zM1228 801h8v1h-8zM1240 801h1v2h-1zM1335 801h1v1h-1zM535 802h3v1h-3zM724 802h1v1h-1zM822 802h1v1h-1zM1006 802h1v1h-1zM1208 802h20v1h-20zM1333 802h2v1h-2zM534 803h1v2h-1zM725 803h1v1h-1zM823 803h1v1h-1zM1005 803h1v1h-1zM1241 803h1v1h-1zM1331 803h2v1h-2zM15 804h2v1h-2zM36 804h5v1h-5zM726 804h2v1h-2zM824 804h2v1h-2zM927 804h1v1h-1zM1004 804h1v1h-1zM1242 804h1v2h-1zM1329 804h2v1h-2zM14 805h1v2h-1zM17 805h3v1h-3zM30 805h6v1h-6zM41 805h3v1h-3zM533 805h1v1h-1zM727 805h1v1h-1zM826 805h2v1h-2zM926 805h1v2h-1zM928 805h2v1h-2zM1003 805h1v2h-1zM1324 805h5v1h-5zM20 806h2v1h-2zM26 806h4v1h-4zM44 806h2v1h-2zM52 806h16v1h-16zM238 806h2v1h-2zM532 806h1v2h-1zM828 806h1v1h-1zM930 806h1v1h-1zM1243 806h1v1h-1zM1311 806h13v1h-13zM13 807h1v2h-1zM22 807h4v1h-4zM46 807h6v1h-6zM68 807h5v1h-5zM207 807h5v1h-5zM234 807h4v1h-4zM240 807h1v1h-1zM829 807h2v1h-2zM925 807h1v2h-1zM931 807h1v1h-1zM1002 807h1v1h-1zM1244 807h1v2h-1zM1310 807h1v1h-1zM73 808h2v1h-2zM206 808h1v1h-1zM212 808h8v1h-8zM228 808h6v1h-6zM241 808h1v2h-1zM531 808h1v1h-1zM831 808h1v1h-1zM932 808h2v1h-2zM1001 808h1v1h-1zM1255 808h1v1h-1zM1309 808h1v1h-1zM12 809h1v2h-1zM75 809h2v1h-2zM205 809h1v2h-1zM220 809h8v1h-8zM530 809h1v2h-1zM832 809h1v2h-1zM924 809h1v2h-1zM934 809h1v1h-1zM1000 809h1v1h-1zM1245 809h1v1h-1zM1253 809h2v1h-2zM1256 809h1v1h-1zM1308 809h1v1h-1zM77 810h2v1h-2zM95 810h1v1h-1zM111 810h1v1h-1zM242 810h1v1h-1zM935 810h5v1h-5zM999 810h1v1h-1zM1246 810h1v2h-1zM1251 810h2v1h-2zM1257 810h1v2h-1zM1307 810h1v1h-1zM11 811h1v2h-1zM79 811h2v1h-2zM93 811h2v1h-2zM96 811h1v1h-1zM110 811h1v1h-1zM112 811h2v1h-2zM204 811h1v1h-1zM243 811h1v1h-1zM529 811h1v1h-1zM833 811h1v1h-1zM923 811h1v2h-1zM940 811h6v1h-6zM998 811h1v2h-1zM1249 811h2v1h-2zM1306 811h1v1h-1zM81 812h3v1h-3zM91 812h2v1h-2zM97 812h1v1h-1zM109 812h1v1h-1zM114 812h2v1h-2zM203 812h1v1h-1zM244 812h1v1h-1zM528 812h1v2h-1zM834 812h1v1h-1zM946 812h4v1h-4zM1247 812h2v1h-2zM1258 812h1v1h-1zM1294 812h4v1h-4zM1305 812h1v1h-1zM10 813h1v2h-1zM84 813h2v1h-2zM89 813h2v1h-2zM98 813h1v1h-1zM108 813h1v1h-1zM116 813h1v1h-1zM202 813h1v1h-1zM245 813h1v2h-1zM835 813h1v2h-1zM922 813h1v2h-1zM950 813h3v1h-3zM997 813h1v1h-1zM1259 813h1v1h-1zM1290 813h4v1h-4zM1298 813h4v1h-4zM1304 813h1v1h-1zM86 814h3v1h-3zM99 814h1v2h-1zM107 814h1v2h-1zM117 814h2v1h-2zM201 814h1v2h-1zM527 814h1v1h-1zM900 814h5v1h-5zM953 814h2v1h-2zM996 814h1v1h-1zM1260 814h1v1h-1zM1284 814h6v1h-6zM1302 814h2v1h-2zM9 815h1v2h-1zM119 815h3v1h-3zM246 815h1v1h-1zM526 815h1v1h-1zM836 815h1v1h-1zM854 815h12v1h-12zM892 815h8v1h-8zM905 815h2v1h-2zM921 815h1v2h-1zM955 815h2v1h-2zM995 815h1v2h-1zM1261 815h1v2h-1zM1270 815h14v1h-14zM100 816h1v1h-1zM106 816h1v1h-1zM122 816h4v1h-4zM200 816h1v1h-1zM247 816h1v2h-1zM525 816h1v1h-1zM837 816h1v1h-1zM852 816h2v1h-2zM866 816h4v1h-4zM884 816h8v1h-8zM907 816h2v1h-2zM957 816h2v1h-2zM1268 816h2v1h-2zM8 817h1v2h-1zM101 817h1v1h-1zM105 817h1v1h-1zM126 817h4v1h-4zM188 817h12v1h-12zM524 817h1v1h-1zM838 817h1v2h-1zM849 817h3v1h-3zM870 817h14v1h-14zM909 817h2v1h-2zM920 817h1v2h-1zM959 817h1v1h-1zM994 817h1v1h-1zM1262 817h1v1h-1zM1265 817h3v1h-3zM102 818h1v1h-1zM104 818h1v1h-1zM130 818h4v1h-4zM182 818h6v1h-6zM248 818h1v2h-1zM522 818h2v1h-2zM844 818h5v1h-5zM911 818h5v1h-5zM960 818h2v1h-2zM993 818h1v1h-1zM1263 818h2v1h-2zM7 819h1v2h-1zM103 819h1v1h-1zM134 819h3v1h-3zM167 819h5v1h-5zM178 819h4v1h-4zM521 819h1v1h-1zM839 819h5v1h-5zM916 819h4v1h-4zM962 819h2v1h-2zM992 819h1v2h-1zM137 820h3v1h-3zM166 820h1v1h-1zM172 820h6v1h-6zM249 820h1v3h-1zM520 820h1v1h-1zM964 820h1v1h-1zM140 821h2v1h-2zM164 821h2v1h-2zM519 821h1v1h-1zM965 821h2v1h-2zM990 821h2v1h-2zM142 822h6v1h-6zM163 822h1v1h-1zM518 822h1v1h-1zM967 822h5v1h-5zM988 822h2v1h-2zM148 823h6v1h-6zM162 823h1v1h-1zM250 823h1v3h-1zM383 823h5v1h-5zM516 823h2v1h-2zM972 823h8v1h-8zM985 823h3v1h-3zM154 824h4v1h-4zM160 824h2v1h-2zM381 824h2v1h-2zM388 824h5v1h-5zM515 824h1v1h-1zM980 824h5v1h-5zM158 825h2v1h-2zM380 825h1v1h-1zM393 825h3v1h-3zM503 825h3v1h-3zM514 825h1v1h-1zM251 826h1v2h-1zM378 826h2v1h-2zM396 826h2v1h-2zM428 826h5v1h-5zM502 826h1v1h-1zM506 826h4v1h-4zM512 826h2v1h-2zM376 827h2v1h-2zM398 827h6v1h-6zM412 827h16v1h-16zM433 827h3v1h-3zM501 827h1v1h-1zM510 827h2v1h-2zM252 828h1v3h-1zM374 828h2v1h-2zM404 828h8v1h-8zM436 828h2v1h-2zM500 828h1v1h-1zM372 829h2v1h-2zM438 829h2v1h-2zM499 829h1v2h-1zM342 830h4v1h-4zM369 830h3v1h-3zM440 830h1v2h-1zM253 831h1v3h-1zM340 831h2v1h-2zM346 831h4v1h-4zM366 831h3v1h-3zM479 831h2v1h-2zM498 831h1v1h-1zM337 832h3v1h-3zM350 832h4v1h-4zM364 832h2v1h-2zM441 832h1v2h-1zM478 832h1v2h-1zM481 832h2v1h-2zM497 832h1v1h-1zM263 833h5v1h-5zM335 833h2v1h-2zM354 833h4v1h-4zM361 833h3v1h-3zM483 833h2v1h-2zM496 833h1v1h-1zM254 834h1v2h-1zM261 834h2v1h-2zM268 834h4v1h-4zM334 834h1v1h-1zM358 834h3v1h-3zM442 834h1v2h-1zM477 834h1v2h-1zM485 834h2v1h-2zM492 834h4v1h-4zM259 835h2v1h-2zM272 835h2v1h-2zM333 835h1v1h-1zM487 835h5v1h-5zM255 836h1v2h-1zM257 836h2v1h-2zM274 836h2v1h-2zM286 836h2v1h-2zM332 836h1v1h-1zM443 836h1v2h-1zM455 836h9v1h-9zM476 836h1v1h-1zM256 837h1v1h-1zM276 837h1v1h-1zM284 837h2v1h-2zM288 837h1v1h-1zM331 837h1v1h-1zM454 837h1v1h-1zM464 837h1v1h-1zM475 837h1v2h-1zM277 838h2v1h-2zM281 838h3v1h-3zM289 838h1v1h-1zM330 838h1v1h-1zM444 838h1v2h-1zM453 838h1v1h-1zM465 838h1v1h-1zM279 839h2v1h-2zM290 839h2v1h-2zM319 839h3v1h-3zM329 839h1v1h-1zM452 839h1v1h-1zM466 839h1v1h-1zM474 839h1v1h-1zM292 840h1v1h-1zM318 840h1v1h-1zM322 840h4v1h-4zM328 840h1v1h-1zM445 840h1v2h-1zM451 840h1v1h-1zM467 840h1v1h-1zM473 840h1v2h-1zM293 841h1v1h-1zM316 841h2v1h-2zM326 841h2v1h-2zM450 841h1v1h-1zM468 841h1v1h-1zM294 842h1v1h-1zM315 842h1v1h-1zM446 842h1v2h-1zM449 842h1v1h-1zM469 842h1v1h-1zM472 842h1v2h-1zM295 843h5v1h-5zM314 843h1v1h-1zM448 843h1v1h-1zM470 843h1v1h-1zM300 844h8v1h-8zM312 844h2v1h-2zM447 844h1v1h-1zM471 844h1v1h-1zM308 845h4v1h-4z" fill="#1e90ff"/>
</g>
<g shape-rendering="crispEdges">
<rect x="7" y="872" width="1" height="3" fill="#000"/>
<rect x="71" y="872" width="1" height="3" fill="#000"/>
<rect x="135" y="872" width="1" height="3" fill="#000"/>
<rect x="199" y="872" width="1" height="3" fill="#000"/>
<rect x="263" y="872" width="1" height="3" fill="#000"/>
<rect x="327" y="872" width="1" height="3" fill="#000"/>
<rect x="391" y="872" width="1" height="3" fill="#000"/>
<rect x="455" y="872" width="1" height="3" fill="#000"/>
<rect x="519" y="872" width="1" height="3" fill="#000"/>
<rect x="583" y="872" width="1" height="3" fill="#000"/>
<rect x="647" y="872" width="1" height="3" fill="#000"/>
<rect x="711" y="872" width="1" height="3" fill="#000"/>
<rect x="775" y="872" width="1" height="3" fill="#000"/>
<rect x="839" y="872" width="1" height="3" fill="#000"/>
<rect x="903" y="872" width="1" height="3" fill="#000"/>
<rect x="967" y="872" width="1" height="3" fill="#000"/>
<rect x="1031" y="872" width="1" height="3" fill="#000"/>
<rect x="1095" y="872" width="1" height="3" fill="#000"/>
<rect x="1159" y="872" width="1" height="3" fill="#000"/>
<rect x="1223" y="872" width="1" height="3" fill="#000"/>
<rect x="1287" y="872" width="1" height="3" fill="#000"/>
<rect x="1688" y="36" width="2" height="1" fill="#000"/>
<rect x="1688" y="69" width="2" height="1" fill="#000"/>
<rect x="1688" y="102" width="2" height="1" fill="#000"/>
<rect x="1688" y="135" width="2" height="1" fill="#000"/>
<rect x="1688" y="168" width="2" height="1" fill="#000"/>
<rect x="1688" y="201" width="2" height="1" fill="#000"/>
<rect x="1688" y="234" width="2" height="1" fill="#000"/>
<rect x="1688" y="267" width="2" height="1" fill="#000"/>
<rect x="1688" y="300" width="2" height="1" fill="#000"/>
<rect x="1688" y="333" width="2" height="1" fill="#000"/>
<rect x="1688" y="366" width="2" height="1" fill="#000"/>
<rect x="1688" y="399" width="2" height="1" fill="#000"/>
<rect x="1688" y="432" width="2" height="1" fill="#000"/>
<rect x="1688" y="465" width="2" height="1" fill="#000"/>
<rect x="1688" y="498" width="2" height="1" fill="#000"/>
<rect x="1688" y="531" width="2" height="1" fill="#000"/>
<rect x="1688" y="564" width="2" height="1" fill="#000"/>
<rect x="1688" y="571" width="2" height="1" fill="#000"/>
<rect x="1688" y="640" width="2" height="1" fill="#000"/>
<rect x="1688" y="740" width="2" height="1" fill="#000"/>
<rect x="1688" y="745" width="2" height="1" fill="#000"/>
<rect x="1688" y="869" width="2" height="1" fill="#000"/>
</g>
<text x="1693.2" y="39.6" font-size="9.6" fill="#000" stroke="#000" stroke-width="0.12" text-anchor="start" textLength="33" lengthAdjust="spacingAndGlyphs" >1911.85</text>
<text x="1693.2" y="72.6" font-size="9.6" fill="#000" stroke="#000" stroke-width="0.12" text-anchor="start" textLength="33" lengthAdjust="spacingAndGlyphs" >1902.35</text>
<text x="1693.2" y="105.6" font-size="9.6" fill="#000" stroke="#000" stroke-width="0.12" text-anchor="start" textLength="33" lengthAdjust="spacingAndGlyphs" >1893.10</text>
<text x="1693.2" y="138.6" font-size="9.6" fill="#000" stroke="#000" stroke-width="0.12" text-anchor="start" textLength="33" lengthAdjust="spacingAndGlyphs" >1883.60</text>
<text x="1693.2" y="171.6" font-size="9.6" fill="#000" stroke="#000" stroke-width="0.12" text-anchor="start" textLength="33" lengthAdjust="spacingAndGlyphs" >1874.10</text>
<text x="1693.2" y="204.6" font-size="9.6" fill="#000" stroke="#000" stroke-width="0.12" text-anchor="start" textLength="33" lengthAdjust="spacingAndGlyphs" >1864.85</text>
<text x="1693.2" y="237.6" font-size="9.6" fill="#000" stroke="#000" stroke-width="0.12" text-anchor="start" textLength="33" lengthAdjust="spacingAndGlyphs" >1855.35</text>
<text x="1693.2" y="270.6" font-size="9.6" fill="#000" stroke="#000" stroke-width="0.12" text-anchor="start" textLength="33" lengthAdjust="spacingAndGlyphs" >1845.85</text>
<text x="1693.2" y="303.6" font-size="9.6" fill="#000" stroke="#000" stroke-width="0.12" text-anchor="start" textLength="33" lengthAdjust="spacingAndGlyphs" >1836.60</text>
<text x="1693.2" y="336.6" font-size="9.6" fill="#000" stroke="#000" stroke-width="0.12" text-anchor="start" textLength="33" lengthAdjust="spacingAndGlyphs" >1827.10</text>
<text x="1693.2" y="369.6" font-size="9.6" fill="#000" stroke="#000" stroke-width="0.12" text-anchor="start" textLength="33" lengthAdjust="spacingAndGlyphs" >1817.85</text>
<text x="1693.2" y="402.6" font-size="9.6" fill="#000" stroke="#000" stroke-width="0.12" text-anchor="start" textLength="33" lengthAdjust="spacingAndGlyphs" >1808.35</text>
<text x="1693.2" y="435.6" font-size="9.6" fill="#000" stroke="#000" stroke-width="0.12" text-anchor="start" textLength="33" lengthAdjust="spacingAndGlyphs" >1798.85</text>
<text x="1693.2" y="468.6" font-size="9.6" fill="#000" stroke="#000" stroke-width="0.12" text-anchor="start" textLength="33" lengthAdjust="spacingAndGlyphs" >1789.60</text>
<text x="1693.2" y="501.6" font-size="9.6" fill="#000" stroke="#000" stroke-width="0.12" text-anchor="start" textLength="33" lengthAdjust="spacingAndGlyphs" >1780.10</text>
<text x="1693.2" y="534.6" font-size="9.6" fill="#000" stroke="#000" stroke-width="0.12" text-anchor="start" textLength="33" lengthAdjust="spacingAndGlyphs" >1770.85</text>
<text x="1693.2" y="567.6" font-size="9.6" fill="#000" stroke="#000" stroke-width="0.12" text-anchor="start" textLength="33" lengthAdjust="spacingAndGlyphs" >1761.35</text>
<rect x="1689" y="36" width="38" height="11" fill="#ff0000" shape-rendering="crispEdges"/>
<text x="1693.2" y="45" font-size="9.6" fill="#fff" stroke="#fff" stroke-width="0.12" text-anchor="start" textLength="33" lengthAdjust="spacingAndGlyphs" >1910.00</text>
<rect x="1689" y="157" width="38" height="11" fill="#000000" shape-rendering="crispEdges"/>
<text x="1693.2" y="166" font-size="9.6" fill="#fff" stroke="#fff" stroke-width="0.12" text-anchor="start" textLength="33" lengthAdjust="spacingAndGlyphs" >1876.02</text>
<rect x="1689" y="194" width="38" height="11" fill="#32cd32" shape-rendering="crispEdges"/>
<text x="1693.2" y="203" font-size="9.6" fill="#fff" stroke="#fff" stroke-width="0.12" text-anchor="start" textLength="33" lengthAdjust="spacingAndGlyphs" >1865.00</text>
<rect x="1689" y="370" width="38" height="11" fill="#4169e1" shape-rendering="crispEdges"/>
<text x="1693.2" y="379" font-size="9.6" fill="#fff" stroke="#fff" stroke-width="0.12" text-anchor="start" textLength="33" lengthAdjust="spacingAndGlyphs" >1815.00</text>
<rect x="1689" y="545" width="38" height="11" fill="#4169e1" shape-rendering="crispEdges"/>
<text x="1693.2" y="554" font-size="9.6" fill="#fff" stroke="#fff" stroke-width="0.12" text-anchor="start" textLength="33" lengthAdjust="spacingAndGlyphs" >1765.00</text>
<text x="1691.5" y="579.5" font-size="9.6" fill="#000" stroke="#000" stroke-width="0.12" text-anchor="start" textLength="27.5" lengthAdjust="spacingAndGlyphs" >13.765</text>
<text x="1691.5" y="643.6" font-size="9.6" fill="#000" stroke="#000" stroke-width="0.12" text-anchor="start" textLength="17.5" lengthAdjust="spacingAndGlyphs" >0.00</text>
<text x="1691.5" y="737.6" font-size="9.6" fill="#000" stroke="#000" stroke-width="0.12" text-anchor="start" textLength="25.5" lengthAdjust="spacingAndGlyphs" >-19.82</text>
<text x="1691.5" y="753.4" font-size="9.6" fill="#000" stroke="#000" stroke-width="0.12" text-anchor="start" textLength="14.3" lengthAdjust="spacingAndGlyphs" >100</text>
<text x="1691.5" y="785.5" font-size="9.6" fill="#000" stroke="#000" stroke-width="0.12" text-anchor="start" textLength="9.5" lengthAdjust="spacingAndGlyphs" >70</text>
<text x="1691.5" y="836.5" font-size="9.6" fill="#000" stroke="#000" stroke-width="0.12" text-anchor="start" textLength="9.5" lengthAdjust="spacingAndGlyphs" >30</text>
<text x="1691.5" y="867.5" font-size="9.6" fill="#000" stroke="#000" stroke-width="0.12" text-anchor="start" textLength="4.7" lengthAdjust="spacingAndGlyphs" >0</text>
<text x="21.5" y="40" font-size="9.9" fill="#000" stroke="#000" stroke-width="0.12" text-anchor="start" textLength="57.6" lengthAdjust="spacingAndGlyphs" >XAUUSD-,H4</text>
<text x="85" y="40" font-size="9.9" fill="#000" stroke="#000" stroke-width="0.12" text-anchor="start" textLength="141" lengthAdjust="spacingAndGlyphs" >1872.54 1876.24 1871.55 1876.02</text>
<polygon points="10,35 17,35 13.5,39" fill="#000"/>
<text x="11.2" y="582" font-size="9.9" fill="#000" stroke="#000" stroke-width="0.12" text-anchor="start" textLength="118.3" lengthAdjust="spacingAndGlyphs" >MACD(12,26,9) 0.331 0.050</text>
<text x="11.2" y="756" font-size="9.9" fill="#000" stroke="#000" stroke-width="0.12" text-anchor="start" textLength="68.3" lengthAdjust="spacingAndGlyphs" >RSI(14) 55.5772</text>
<text x="6.3" y="884" font-size="10" fill="#000" stroke="#000" stroke-width="0.12" text-anchor="start" textLength="53" lengthAdjust="spacingAndGlyphs" >16 Nov 2020</text>
<text x="70.3" y="884" font-size="10" fill="#000" stroke="#000" stroke-width="0.12" text-anchor="start" textLength="56.5" lengthAdjust="spacingAndGlyphs" >17 Nov 16:00</text>
<text x="134.3" y="884" font-size="10" fill="#000" stroke="#000" stroke-width="0.12" text-anchor="start" textLength="56.5" lengthAdjust="spacingAndGlyphs" >19 Nov 00:00</text>
<text x="198.3" y="884" font-size="10" fill="#000" stroke="#000" stroke-width="0.12" text-anchor="start" textLength="56.5" lengthAdjust="spacingAndGlyphs" >20 Nov 08:00</text>
<text x="262.3" y="884" font-size="10" fill="#000" stroke="#000" stroke-width="0.12" text-anchor="start" textLength="56.5" lengthAdjust="spacingAndGlyphs" >23 Nov 16:00</text>
<text x="326.3" y="884" font-size="10" fill="#000" stroke="#000" stroke-width="0.12" text-anchor="start" textLength="56.5" lengthAdjust="spacingAndGlyphs" >25 Nov 00:00</text>
<text x="390.3" y="884" font-size="10" fill="#000" stroke="#000" stroke-width="0.12" text-anchor="start" textLength="56.5" lengthAdjust="spacingAndGlyphs" >26 Nov 08:00</text>
<text x="454.3" y="884" font-size="10" fill="#000" stroke="#000" stroke-width="0.12" text-anchor="start" textLength="56.5" lengthAdjust="spacingAndGlyphs" >27 Nov 16:00</text>
<text x="518.3" y="884" font-size="10" fill="#000" stroke="#000" stroke-width="0.12" text-anchor="start" textLength="49.5" lengthAdjust="spacingAndGlyphs" >1 Dec 00:00</text>
<text x="582.3" y="884" font-size="10" fill="#000" stroke="#000" stroke-width="0.12" text-anchor="start" textLength="49.5" lengthAdjust="spacingAndGlyphs" >2 Dec 08:00</text>
<text x="646.3" y="884" font-size="10" fill="#000" stroke="#000" stroke-width="0.12" text-anchor="start" textLength="49.5" lengthAdjust="spacingAndGlyphs" >3 Dec 16:00</text>
<text x="710.3" y="884" font-size="10" fill="#000" stroke="#000" stroke-width="0.12" text-anchor="start" textLength="49.5" lengthAdjust="spacingAndGlyphs" >7 Dec 00:00</text>
<text x="774.3" y="884" font-size="10" fill="#000" stroke="#000" stroke-width="0.12" text-anchor="start" textLength="49.5" lengthAdjust="spacingAndGlyphs" >8 Dec 08:00</text>
<text x="838.3" y="884" font-size="10" fill="#000" stroke="#000" stroke-width="0.12" text-anchor="start" textLength="49.5" lengthAdjust="spacingAndGlyphs" >9 Dec 16:00</text>
<text x="902.3" y="884" font-size="10" fill="#000" stroke="#000" stroke-width="0.12" text-anchor="start" textLength="54.5" lengthAdjust="spacingAndGlyphs" >11 Dec 00:00</text>
<text x="966.3" y="884" font-size="10" fill="#000" stroke="#000" stroke-width="0.12" text-anchor="start" textLength="54.5" lengthAdjust="spacingAndGlyphs" >14 Dec 08:00</text>
<text x="1030.3" y="884" font-size="10" fill="#000" stroke="#000" stroke-width="0.12" text-anchor="start" textLength="54.5" lengthAdjust="spacingAndGlyphs" >15 Dec 16:00</text>
<text x="1094.3" y="884" font-size="10" fill="#000" stroke="#000" stroke-width="0.12" text-anchor="start" textLength="54.5" lengthAdjust="spacingAndGlyphs" >17 Dec 00:00</text>
<text x="1158.3" y="884" font-size="10" fill="#000" stroke="#000" stroke-width="0.12" text-anchor="start" textLength="54.5" lengthAdjust="spacingAndGlyphs" >18 Dec 08:00</text>
<text x="1222.3" y="884" font-size="10" fill="#000" stroke="#000" stroke-width="0.12" text-anchor="start" textLength="54.5" lengthAdjust="spacingAndGlyphs" >21 Dec 16:00</text>
<text x="1286.3" y="884" font-size="10" fill="#000" stroke="#000" stroke-width="0.12" text-anchor="start" textLength="54.5" lengthAdjust="spacingAndGlyphs" >23 Dec 00:00</text>
<g transform="translate(1336,280) scale(0.051613)" fill="none" stroke="#ed1c24" stroke-width="50" stroke-linecap="butt" stroke-linejoin="miter" stroke-miterlimit="1.5">
<path d="M420,118 Q300,240 135,335"/>
<path d="M340,212 L690,215"/>
<path d="M680,215 Q520,390 110,495"/>
<path d="M300,300 L385,385"/>
<path d="M520,398 Q340,540 155,625"/>
<path d="M440,478 L725,478"/>
<path d="M718,478 Q560,710 125,770"/>
<path d="M375,585 L450,670"/>
<path d="M1090,130 L1145,210"/>
<path d="M842,345 L842,237 L1405,237 L1405,345"/>
<path d="M1055,310 Q930,410 800,478"/>
<path d="M1195,312 Q1320,395 1440,480"/>
<path d="M880,500 L1365,500"/>
<path d="M1125,500 L1125,730"/>
<path d="M812,730 L1438,730"/>
</g>
<g transform="translate(1406,280) scale(0.051613)" fill="none" stroke="#ed1c24" stroke-width="50" stroke-linecap="butt" stroke-linejoin="miter" stroke-miterlimit="1.5">
<path d="M135,250 L425,250"/>
<path d="M278,122 Q230,320 150,475 L425,475"/>
<path d="M302,318 L302,792"/>
<path d="M125,650 L438,592"/>
<path d="M448,250 L778,250"/>
<path d="M418,388 L808,388"/>
<path d="M592,122 L490,525 L770,525 L605,690"/>
<path d="M475,615 L712,772"/>
<path d="M832,290 L1062,290"/>
<path d="M950,128 L950,690 Q950,770 838,742"/>
<path d="M822,522 L1052,442"/>
<path d="M1472,168 L1108,205"/>
<path d="M1130,200 L1130,440 Q1125,640 1035,772"/>
<path d="M1140,410 L1502,410"/>
<path d="M1348,410 L1348,792"/>
</g>
<g transform="translate(1476,280) scale(0.051613)" fill="none" stroke="#ed1c24" stroke-width="50" stroke-linecap="butt" stroke-linejoin="miter" stroke-miterlimit="1.5">
<path d="M493,118 L493,358"/>
<path d="M493,225 L832,225"/>
<path d="M282,598 L282,358 L740,358 L740,598"/>
<path d="M282,545 L740,545"/>
<path d="M278,628 L188,768"/>
<path d="M392,620 L442,768"/>
<path d="M556,612 L616,762"/>
<path d="M722,625 L812,772"/>
</g>
<g transform="translate(1526,280) scale(0.051613)" fill="none" stroke="#ed1c24" stroke-width="58" stroke-linecap="butt" stroke-linejoin="miter" stroke-miterlimit="1.5">
<path d="M112,160 L112,697"/>
<path d="M130,172 L-48,288"/>
<path d="M493,190 A118,110 0 1 1 492,190 Z"/>
<path d="M493,410 A140,136 0 1 1 492,410 Z"/>
<path d="M1042,208 Q950,170 870,225 Q765,310 766,540"/>
<path d="M908,400 A142,141 0 1 1 907,400 Z"/>
<path d="M1437,205 L1215,205 L1193,412 Q1300,395 1370,430 Q1440,475 1436,560 Q1430,640 1360,672 Q1270,705 1162,645"/>
</g>
</svg>
</body></html>
